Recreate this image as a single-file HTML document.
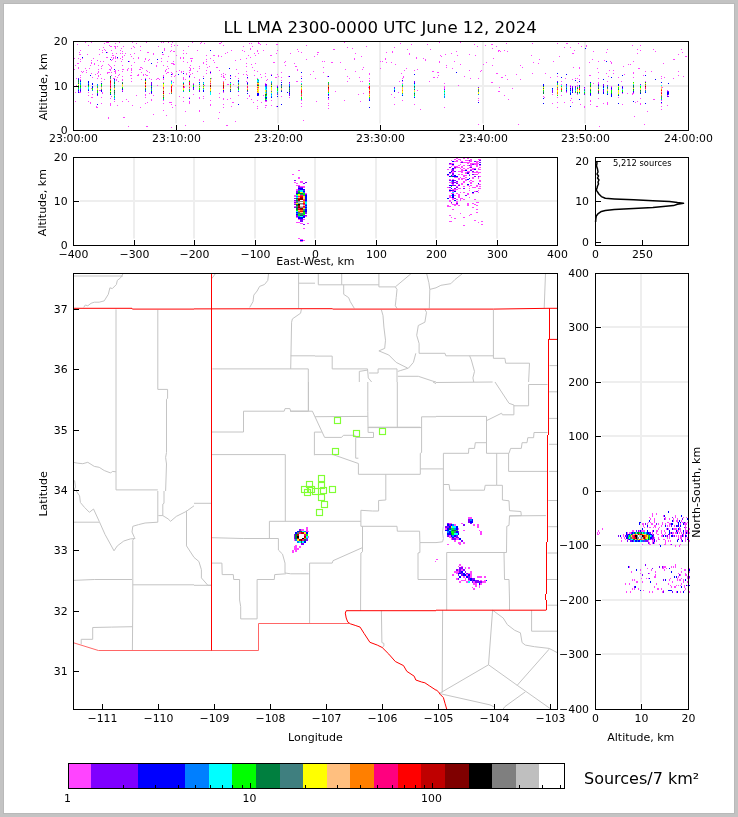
<!DOCTYPE html>
<html><head><meta charset="utf-8"><style>html,body{margin:0;padding:0;background:#c3c3c3;width:738px;height:817px;overflow:hidden}svg text{fill:#000}</style></head><body>
<svg width="738" height="817" viewBox="0 0 738 817" font-family="'DejaVu Sans', 'Liberation Sans', sans-serif" style="position:absolute;left:0;top:0" shape-rendering="auto">
<rect x="0" y="0" width="738" height="817" fill="#c3c3c3"/>
<rect x="3" y="3" width="732" height="811" fill="#b9b9b9"/>
<rect x="4" y="4" width="730" height="809" fill="#fff"/>
<text x="380.20" y="33.30" font-size="16.6" text-anchor="middle" >LL LMA 2300-0000 UTC June 12, 2024</text>
<line x1="176.00" y1="42.00" x2="176.00" y2="123.50" stroke="#eeeeee" stroke-width="2" />
<line x1="278.00" y1="42.00" x2="278.00" y2="123.50" stroke="#eeeeee" stroke-width="2" />
<line x1="380.00" y1="42.00" x2="380.00" y2="123.50" stroke="#eeeeee" stroke-width="2" />
<line x1="483.00" y1="42.00" x2="483.00" y2="123.50" stroke="#eeeeee" stroke-width="2" />
<line x1="585.00" y1="42.00" x2="585.00" y2="123.50" stroke="#eeeeee" stroke-width="2" />
<line x1="80.00" y1="86.00" x2="688.00" y2="86.00" stroke="#eeeeee" stroke-width="2" />
<g shape-rendering="crispEdges"><path fill="#ff44ff" d="M97 60h1v1h-1zM107 52h1v1h-1zM99 90h1v1h-1zM100 90h1v1h-1zM164 50h1v1h-1zM82 72h1v1h-1zM157 78h1v1h-1zM158 78h1v1h-1zM161 42h1v1h-1zM168 56h1v1h-1zM120 50h1v1h-1zM108 72h1v1h-1zM109 72h1v1h-1zM102 65h1v1h-1zM118 75h1v1h-1zM100 74h1v1h-1zM95 74h1v1h-1zM161 61h1v1h-1zM151 79h1v1h-1zM138 74h1v1h-1zM163 65h1v1h-1zM74 58h1v1h-1zM112 55h1v1h-1zM113 55h1v1h-1zM91 60h1v1h-1zM111 72h1v1h-1zM82 58h1v1h-1zM167 61h1v1h-1zM107 72h1v1h-1zM107 73h1v1h-1zM117 105h1v1h-1zM153 114h1v1h-1zM109 45h1v1h-1zM78 58h1v1h-1zM79 54h1v1h-1zM80 54h1v1h-1zM153 95h1v1h-1zM117 77h1v1h-1zM174 45h1v1h-1zM173 61h1v1h-1zM106 57h1v1h-1zM107 57h1v1h-1zM92 77h1v1h-1zM108 117h1v1h-1zM144 61h1v1h-1zM118 70h1v1h-1zM137 75h1v1h-1zM109 69h1v1h-1zM112 59h1v1h-1zM114 65h1v1h-1zM172 85h1v1h-1zM122 59h1v1h-1zM166 73h1v1h-1zM172 42h1v1h-1zM93 58h1v1h-1zM118 81h1v1h-1zM108 64h1v1h-1zM122 53h1v1h-1zM111 96h1v1h-1zM120 53h1v1h-1zM86 70h1v1h-1zM77 44h1v1h-1zM169 102h1v1h-1zM170 102h1v1h-1zM149 78h1v1h-1zM171 76h1v1h-1zM90 102h1v1h-1zM90 103h1v1h-1zM117 46h1v1h-1zM126 99h1v1h-1zM123 69h1v1h-1zM99 49h1v1h-1zM145 59h1v1h-1zM103 61h1v1h-1zM128 68h1v1h-1zM124 55h1v1h-1zM167 72h1v1h-1zM168 72h1v1h-1zM148 60h1v1h-1zM91 88h1v1h-1zM80 50h1v1h-1zM91 97h1v1h-1zM173 51h1v1h-1zM174 51h1v1h-1zM104 79h1v1h-1zM108 118h1v1h-1zM141 72h1v1h-1zM121 61h1v1h-1zM131 48h1v1h-1zM149 59h1v1h-1zM116 53h1v1h-1zM142 68h1v1h-1zM156 79h1v1h-1zM146 42h1v1h-1zM161 58h1v1h-1zM131 70h1v1h-1zM138 58h1v1h-1zM133 46h1v1h-1zM146 70h1v1h-1zM88 92h1v1h-1zM171 127h1v1h-1zM74 69h1v1h-1zM128 101h1v1h-1zM172 107h1v1h-1zM123 117h1v1h-1zM124 117h1v1h-1zM94 64h1v1h-1zM141 79h1v1h-1zM102 50h1v1h-1zM146 126h1v1h-1zM147 126h1v1h-1zM102 92h1v1h-1zM102 93h1v1h-1zM131 81h1v1h-1zM166 69h1v1h-1zM80 61h1v1h-1zM140 50h1v1h-1zM88 45h1v1h-1zM139 69h1v1h-1zM140 69h1v1h-1zM165 71h1v1h-1zM111 46h1v1h-1zM143 74h1v1h-1zM143 75h1v1h-1zM147 102h1v1h-1zM104 49h1v1h-1zM129 61h1v1h-1zM134 53h1v1h-1zM99 54h1v1h-1zM116 79h1v1h-1zM116 80h1v1h-1zM101 66h1v1h-1zM163 75h1v1h-1zM169 93h1v1h-1zM141 67h1v1h-1zM170 51h1v1h-1zM130 54h1v1h-1zM132 42h1v1h-1zM175 75h1v1h-1zM86 72h1v1h-1zM159 79h1v1h-1zM133 58h1v1h-1zM119 42h1v1h-1zM127 69h1v1h-1zM127 70h1v1h-1zM80 59h1v1h-1zM132 105h1v1h-1zM120 58h1v1h-1zM100 61h1v1h-1zM106 42h1v1h-1zM97 78h1v1h-1zM163 42h1v1h-1zM140 46h1v1h-1zM128 126h1v1h-1zM91 42h1v1h-1zM96 106h1v1h-1zM96 107h1v1h-1zM121 48h1v1h-1zM149 72h1v1h-1zM80 79h1v1h-1zM81 71h1v1h-1zM168 42h1v1h-1zM79 92h1v1h-1zM90 65h1v1h-1zM75 92h1v1h-1zM171 50h1v1h-1zM134 47h1v1h-1zM157 85h1v1h-1zM134 62h1v1h-1zM113 57h1v1h-1zM113 58h1v1h-1zM172 73h1v1h-1zM172 74h1v1h-1zM171 46h1v1h-1zM138 57h1v1h-1zM79 52h1v1h-1zM76 78h1v1h-1zM173 63h1v1h-1zM114 46h1v1h-1zM158 46h1v1h-1zM171 44h1v1h-1zM140 67h1v1h-1zM153 53h1v1h-1zM153 54h1v1h-1zM115 43h1v1h-1zM94 63h1v1h-1zM145 58h1v1h-1zM157 62h1v1h-1zM136 95h1v1h-1zM147 75h1v1h-1zM125 53h1v1h-1zM167 66h1v1h-1zM75 65h1v1h-1zM83 71h1v1h-1zM91 62h1v1h-1zM91 63h1v1h-1zM168 68h1v1h-1zM117 58h1v1h-1zM87 54h1v1h-1zM147 52h1v1h-1zM148 52h1v1h-1zM112 53h1v1h-1zM146 75h1v1h-1zM156 66h1v1h-1zM115 57h1v1h-1zM138 75h1v1h-1zM149 93h1v1h-1zM166 115h1v1h-1zM171 63h1v1h-1zM172 63h1v1h-1zM105 50h1v1h-1zM175 105h1v1h-1zM85 42h1v1h-1zM89 68h1v1h-1zM174 76h1v1h-1zM80 75h1v1h-1zM162 54h1v1h-1zM163 54h1v1h-1zM101 68h1v1h-1zM110 46h1v1h-1zM77 63h1v1h-1zM78 63h1v1h-1zM91 73h1v1h-1zM103 47h1v1h-1zM147 71h1v1h-1zM136 43h1v1h-1zM140 107h1v1h-1zM107 42h1v1h-1zM108 42h1v1h-1zM156 65h1v1h-1zM75 101h1v1h-1zM109 65h1v1h-1zM173 82h1v1h-1zM165 70h1v1h-1zM123 46h1v1h-1zM119 74h1v1h-1zM85 86h1v1h-1zM130 75h1v1h-1zM104 43h1v1h-1zM164 48h1v1h-1zM164 49h1v1h-1zM113 78h1v1h-1zM173 64h1v1h-1zM174 64h1v1h-1zM85 68h1v1h-1zM102 52h1v1h-1zM76 85h1v1h-1zM218 118h1v1h-1zM251 43h1v1h-1zM181 72h1v1h-1zM203 121h1v1h-1zM221 76h1v1h-1zM189 101h1v1h-1zM223 107h1v1h-1zM227 52h1v1h-1zM252 46h1v1h-1zM267 79h1v1h-1zM183 77h1v1h-1zM270 55h1v1h-1zM271 55h1v1h-1zM258 42h1v1h-1zM258 43h1v1h-1zM223 77h1v1h-1zM219 43h1v1h-1zM220 43h1v1h-1zM211 78h1v1h-1zM276 53h1v1h-1zM257 50h1v1h-1zM257 51h1v1h-1zM180 57h1v1h-1zM219 93h1v1h-1zM199 66h1v1h-1zM186 74h1v1h-1zM219 97h1v1h-1zM227 84h1v1h-1zM228 84h1v1h-1zM232 102h1v1h-1zM233 102h1v1h-1zM225 74h1v1h-1zM201 42h1v1h-1zM192 58h1v1h-1zM193 68h1v1h-1zM249 95h1v1h-1zM249 96h1v1h-1zM197 71h1v1h-1zM261 77h1v1h-1zM263 50h1v1h-1zM254 75h1v1h-1zM265 105h1v1h-1zM266 105h1v1h-1zM176 55h1v1h-1zM177 45h1v1h-1zM250 49h1v1h-1zM237 87h1v1h-1zM176 71h1v1h-1zM179 96h1v1h-1zM186 73h1v1h-1zM225 79h1v1h-1zM263 95h1v1h-1zM231 106h1v1h-1zM180 58h1v1h-1zM207 67h1v1h-1zM255 63h1v1h-1zM213 60h1v1h-1zM226 125h1v1h-1zM227 125h1v1h-1zM225 53h1v1h-1zM258 53h1v1h-1zM231 50h1v1h-1zM250 48h1v1h-1zM266 80h1v1h-1zM203 62h1v1h-1zM203 63h1v1h-1zM235 121h1v1h-1zM251 64h1v1h-1zM194 77h1v1h-1zM184 86h1v1h-1zM184 87h1v1h-1zM185 79h1v1h-1zM250 57h1v1h-1zM249 43h1v1h-1zM189 67h1v1h-1zM204 85h1v1h-1zM235 76h1v1h-1zM265 76h1v1h-1zM240 59h1v1h-1zM192 42h1v1h-1zM219 70h1v1h-1zM273 62h1v1h-1zM251 99h1v1h-1zM227 99h1v1h-1zM189 72h1v1h-1zM210 58h1v1h-1zM259 43h1v1h-1zM235 60h1v1h-1zM187 62h1v1h-1zM191 60h1v1h-1zM191 61h1v1h-1zM253 102h1v1h-1zM199 110h1v1h-1zM199 111h1v1h-1zM243 74h1v1h-1zM188 46h1v1h-1zM277 50h1v1h-1zM214 62h1v1h-1zM218 55h1v1h-1zM218 56h1v1h-1zM260 44h1v1h-1zM254 53h1v1h-1zM197 50h1v1h-1zM274 62h1v1h-1zM179 70h1v1h-1zM252 67h1v1h-1zM242 50h1v1h-1zM213 55h1v1h-1zM214 55h1v1h-1zM191 58h1v1h-1zM185 111h1v1h-1zM186 53h1v1h-1zM224 77h1v1h-1zM209 66h1v1h-1zM223 45h1v1h-1zM244 51h1v1h-1zM181 71h1v1h-1zM276 106h1v1h-1zM276 44h1v1h-1zM277 44h1v1h-1zM199 68h1v1h-1zM260 74h1v1h-1zM275 77h1v1h-1zM276 77h1v1h-1zM266 44h1v1h-1zM216 67h1v1h-1zM217 67h1v1h-1zM221 42h1v1h-1zM185 125h1v1h-1zM221 74h1v1h-1zM255 55h1v1h-1zM261 102h1v1h-1zM236 69h1v1h-1zM233 84h1v1h-1zM248 55h1v1h-1zM246 66h1v1h-1zM221 56h1v1h-1zM243 46h1v1h-1zM204 43h1v1h-1zM200 43h1v1h-1zM192 73h1v1h-1zM219 112h1v1h-1zM254 70h1v1h-1zM285 65h1v1h-1zM297 69h1v1h-1zM297 70h1v1h-1zM303 120h1v1h-1zM317 52h1v1h-1zM323 72h1v1h-1zM363 93h1v1h-1zM313 71h1v1h-1zM360 101h1v1h-1zM317 54h1v1h-1zM359 77h1v1h-1zM285 61h1v1h-1zM327 76h1v1h-1zM366 46h1v1h-1zM315 78h1v1h-1zM363 67h1v1h-1zM297 49h1v1h-1zM380 61h1v1h-1zM380 68h1v1h-1zM306 59h1v1h-1zM318 52h1v1h-1zM344 100h1v1h-1zM347 76h1v1h-1zM333 49h1v1h-1zM334 49h1v1h-1zM301 52h1v1h-1zM306 45h1v1h-1zM284 62h1v1h-1zM347 81h1v1h-1zM345 69h1v1h-1zM314 56h1v1h-1zM355 71h1v1h-1zM316 101h1v1h-1zM296 81h1v1h-1zM297 81h1v1h-1zM352 48h1v1h-1zM344 42h1v1h-1zM335 91h1v1h-1zM298 51h1v1h-1zM362 69h1v1h-1zM349 78h1v1h-1zM310 74h1v1h-1zM281 96h1v1h-1zM322 61h1v1h-1zM360 81h1v1h-1zM290 53h1v1h-1zM358 94h1v1h-1zM331 62h1v1h-1zM332 62h1v1h-1zM362 81h1v1h-1zM323 67h1v1h-1zM355 53h1v1h-1zM324 61h1v1h-1zM368 87h1v1h-1zM354 58h1v1h-1zM354 59h1v1h-1zM294 63h1v1h-1zM288 76h1v1h-1zM361 56h1v1h-1zM347 47h1v1h-1zM340 62h1v1h-1zM278 76h1v1h-1zM295 66h1v1h-1zM296 66h1v1h-1zM401 73h1v1h-1zM398 92h1v1h-1zM457 55h1v1h-1zM429 81h1v1h-1zM454 61h1v1h-1zM460 64h1v1h-1zM474 44h1v1h-1zM409 53h1v1h-1zM409 54h1v1h-1zM400 43h1v1h-1zM458 85h1v1h-1zM451 53h1v1h-1zM437 77h1v1h-1zM406 68h1v1h-1zM427 44h1v1h-1zM437 72h1v1h-1zM438 72h1v1h-1zM417 69h1v1h-1zM464 76h1v1h-1zM446 67h1v1h-1zM445 54h1v1h-1zM469 70h1v1h-1zM425 60h1v1h-1zM470 78h1v1h-1zM395 64h1v1h-1zM425 59h1v1h-1zM480 71h1v1h-1zM399 81h1v1h-1zM382 61h1v1h-1zM439 61h1v1h-1zM439 62h1v1h-1zM456 51h1v1h-1zM411 44h1v1h-1zM394 47h1v1h-1zM392 51h1v1h-1zM477 46h1v1h-1zM404 70h1v1h-1zM475 55h1v1h-1zM460 42h1v1h-1zM386 62h1v1h-1zM386 52h1v1h-1zM430 49h1v1h-1zM391 62h1v1h-1zM446 65h1v1h-1zM433 77h1v1h-1zM434 77h1v1h-1zM439 42h1v1h-1zM481 70h1v1h-1zM441 56h1v1h-1zM438 75h1v1h-1zM385 58h1v1h-1zM385 59h1v1h-1zM432 71h1v1h-1zM433 71h1v1h-1zM420 109h1v1h-1zM440 55h1v1h-1zM452 68h1v1h-1zM417 90h1v1h-1zM423 58h1v1h-1zM391 94h1v1h-1zM407 49h1v1h-1zM469 54h1v1h-1zM416 57h1v1h-1zM416 58h1v1h-1zM392 52h1v1h-1zM478 124h1v1h-1zM403 76h1v1h-1zM403 77h1v1h-1zM570 47h1v1h-1zM580 104h1v1h-1zM486 62h1v1h-1zM578 43h1v1h-1zM498 50h1v1h-1zM499 50h1v1h-1zM498 51h1v1h-1zM566 43h1v1h-1zM567 43h1v1h-1zM498 91h1v1h-1zM499 91h1v1h-1zM508 99h1v1h-1zM531 55h1v1h-1zM492 48h1v1h-1zM581 46h1v1h-1zM483 64h1v1h-1zM518 124h1v1h-1zM520 79h1v1h-1zM492 65h1v1h-1zM574 50h1v1h-1zM532 73h1v1h-1zM505 75h1v1h-1zM533 62h1v1h-1zM553 61h1v1h-1zM559 56h1v1h-1zM496 73h1v1h-1zM497 73h1v1h-1zM499 87h1v1h-1zM507 79h1v1h-1zM512 88h1v1h-1zM507 51h1v1h-1zM538 63h1v1h-1zM491 44h1v1h-1zM492 44h1v1h-1zM506 43h1v1h-1zM579 67h1v1h-1zM579 68h1v1h-1zM493 58h1v1h-1zM557 43h1v1h-1zM572 53h1v1h-1zM573 53h1v1h-1zM565 78h1v1h-1zM539 59h1v1h-1zM491 82h1v1h-1zM492 82h1v1h-1zM571 98h1v1h-1zM522 67h1v1h-1zM500 51h1v1h-1zM564 102h1v1h-1zM544 97h1v1h-1zM564 47h1v1h-1zM485 45h1v1h-1zM550 77h1v1h-1zM496 46h1v1h-1zM516 74h1v1h-1zM532 43h1v1h-1zM545 73h1v1h-1zM504 50h1v1h-1zM520 65h1v1h-1zM573 67h1v1h-1zM504 95h1v1h-1zM501 77h1v1h-1zM502 77h1v1h-1zM643 75h1v1h-1zM678 75h1v1h-1zM599 126h1v1h-1zM597 68h1v1h-1zM640 45h1v1h-1zM664 77h1v1h-1zM608 76h1v1h-1zM592 59h1v1h-1zM613 70h1v1h-1zM607 49h1v1h-1zM593 51h1v1h-1zM644 124h1v1h-1zM596 106h1v1h-1zM597 106h1v1h-1zM683 76h1v1h-1zM681 49h1v1h-1zM653 99h1v1h-1zM654 99h1v1h-1zM673 78h1v1h-1zM586 45h1v1h-1zM586 46h1v1h-1zM598 61h1v1h-1zM598 72h1v1h-1zM632 93h1v1h-1zM633 93h1v1h-1zM632 94h1v1h-1zM630 64h1v1h-1zM589 62h1v1h-1zM678 54h1v1h-1zM678 71h1v1h-1zM628 64h1v1h-1zM673 59h1v1h-1zM662 87h1v1h-1zM638 68h1v1h-1zM639 68h1v1h-1zM633 61h1v1h-1zM651 71h1v1h-1zM634 116h1v1h-1zM624 74h1v1h-1zM682 52h1v1h-1zM627 93h1v1h-1zM655 51h1v1h-1zM606 52h1v1h-1zM606 73h1v1h-1zM647 111h1v1h-1zM607 103h1v1h-1zM685 56h1v1h-1zM686 56h1v1h-1zM623 66h1v1h-1zM610 61h1v1h-1zM637 53h1v1h-1zM621 81h1v1h-1zM611 62h1v1h-1zM611 63h1v1h-1zM609 70h1v1h-1zM663 63h1v1h-1zM640 50h1v1h-1zM653 49h1v1h-1zM635 102h1v1h-1zM632 45h1v1h-1zM593 83h1v1h-1zM637 49h1v1h-1zM637 101h1v1h-1zM613 73h1v1h-1zM604 60h1v1h-1zM589 75h1v1h-1zM674 59h1v1h-1zM115 48h1v1h-1zM115 72h1v1h-1zM115 76h1v1h-1zM115 70h1v1h-1zM115 46h1v1h-1zM115 47h1v1h-1zM115 71h1v1h-1zM115 56h1v1h-1zM115 61h1v1h-1zM115 73h1v1h-1zM115 58h1v1h-1zM131 69h1v1h-1zM131 72h1v1h-1zM131 75h1v1h-1zM131 56h1v1h-1zM131 65h1v1h-1zM131 78h1v1h-1zM131 68h1v1h-1zM122 71h1v1h-1zM122 69h1v1h-1zM122 56h1v1h-1zM122 51h1v1h-1zM122 65h1v1h-1zM122 76h1v1h-1zM122 57h1v1h-1zM122 80h1v1h-1zM98 65h1v1h-1zM98 69h1v1h-1zM98 71h1v1h-1zM98 76h1v1h-1zM98 72h1v1h-1zM98 75h1v1h-1zM183 57h1v1h-1zM183 71h1v1h-1zM183 53h1v1h-1zM183 58h1v1h-1zM183 50h1v1h-1zM183 61h1v1h-1zM190 68h1v1h-1zM190 65h1v1h-1zM190 69h1v1h-1zM190 74h1v1h-1zM190 70h1v1h-1zM190 58h1v1h-1zM111 75h1v1h-1zM111 50h1v1h-1zM111 57h1v1h-1zM111 60h1v1h-1zM111 68h1v1h-1zM111 67h1v1h-1zM246 71h1v1h-1zM246 81h1v1h-1zM246 63h1v1h-1zM246 74h1v1h-1zM246 58h1v1h-1zM206 55h1v1h-1zM206 64h1v1h-1zM206 70h1v1h-1zM206 61h1v1h-1zM206 73h1v1h-1zM206 59h1v1h-1zM78 68h1v1h-1zM78 67h1v1h-1zM80 92h1v1h-1zM80 77h1v1h-1zM88 95h1v1h-1zM88 101h1v1h-1zM92 97h1v1h-1zM92 94h1v1h-1zM97 73h1v1h-1zM97 107h1v1h-1zM101 81h1v1h-1zM101 97h1v1h-1zM101 78h1v1h-1zM101 103h1v1h-1zM110 69h1v1h-1zM110 70h1v1h-1zM110 103h1v1h-1zM110 98h1v1h-1zM110 66h1v1h-1zM110 104h1v1h-1zM110 105h1v1h-1zM114 78h1v1h-1zM114 101h1v1h-1zM114 71h1v1h-1zM122 90h1v1h-1zM122 79h1v1h-1zM122 101h1v1h-1zM145 74h1v1h-1zM145 97h1v1h-1zM145 103h1v1h-1zM145 94h1v1h-1zM145 95h1v1h-1zM145 78h1v1h-1zM151 100h1v1h-1zM151 99h1v1h-1zM163 78h1v1h-1zM163 76h1v1h-1zM163 82h1v1h-1zM163 110h1v1h-1zM163 100h1v1h-1zM163 103h1v1h-1zM163 79h1v1h-1zM171 104h1v1h-1zM171 72h1v1h-1zM171 80h1v1h-1zM171 102h1v1h-1zM183 101h1v1h-1zM183 78h1v1h-1zM183 97h1v1h-1zM183 79h1v1h-1zM189 70h1v1h-1zM189 102h1v1h-1zM189 97h1v1h-1zM189 75h1v1h-1zM189 103h1v1h-1zM189 77h1v1h-1zM193 94h1v1h-1zM193 83h1v1h-1zM199 79h1v1h-1zM199 80h1v1h-1zM199 97h1v1h-1zM199 98h1v1h-1zM203 76h1v1h-1zM203 98h1v1h-1zM203 96h1v1h-1zM210 100h1v1h-1zM210 73h1v1h-1zM210 105h1v1h-1zM210 71h1v1h-1zM210 104h1v1h-1zM223 92h1v1h-1zM223 76h1v1h-1zM223 81h1v1h-1zM223 99h1v1h-1zM223 75h1v1h-1zM223 104h1v1h-1zM223 98h1v1h-1zM223 73h1v1h-1zM230 98h1v1h-1zM230 76h1v1h-1zM238 78h1v1h-1zM238 73h1v1h-1zM238 95h1v1h-1zM247 75h1v1h-1zM247 78h1v1h-1zM247 98h1v1h-1zM257 100h1v1h-1zM257 106h1v1h-1zM257 71h1v1h-1zM257 108h1v1h-1zM257 78h1v1h-1zM265 83h1v1h-1zM265 101h1v1h-1zM266 101h1v1h-1zM265 107h1v1h-1zM265 73h1v1h-1zM271 100h1v1h-1zM271 105h1v1h-1zM271 74h1v1h-1zM277 85h1v1h-1zM277 74h1v1h-1zM281 77h1v1h-1zM281 80h1v1h-1zM281 72h1v1h-1zM289 83h1v1h-1zM289 97h1v1h-1zM301 76h1v1h-1zM301 100h1v1h-1zM301 103h1v1h-1zM301 106h1v1h-1zM301 81h1v1h-1zM328 99h1v1h-1zM328 108h1v1h-1zM328 103h1v1h-1zM328 105h1v1h-1zM328 98h1v1h-1zM369 73h1v1h-1zM369 78h1v1h-1zM369 74h1v1h-1zM369 81h1v1h-1zM369 80h1v1h-1zM394 104h1v1h-1zM394 97h1v1h-1zM402 78h1v1h-1zM402 81h1v1h-1zM402 83h1v1h-1zM402 100h1v1h-1zM414 104h1v1h-1zM414 70h1v1h-1zM444 87h1v1h-1zM444 88h1v1h-1zM444 86h1v1h-1zM444 107h1v1h-1zM444 83h1v1h-1zM478 78h1v1h-1zM478 100h1v1h-1zM478 98h1v1h-1zM543 96h1v1h-1zM552 94h1v1h-1zM552 103h1v1h-1zM557 76h1v1h-1zM557 107h1v1h-1zM557 97h1v1h-1zM557 102h1v1h-1zM561 84h1v1h-1zM561 95h1v1h-1zM561 81h1v1h-1zM566 92h1v1h-1zM570 87h1v1h-1zM570 85h1v1h-1zM570 100h1v1h-1zM572 102h1v1h-1zM572 79h1v1h-1zM575 78h1v1h-1zM577 86h1v1h-1zM577 94h1v1h-1zM577 78h1v1h-1zM577 82h1v1h-1zM577 85h1v1h-1zM579 75h1v1h-1zM579 79h1v1h-1zM584 88h1v1h-1zM584 107h1v1h-1zM584 106h1v1h-1zM590 104h1v1h-1zM590 75h1v1h-1zM590 100h1v1h-1zM590 101h1v1h-1zM598 78h1v1h-1zM598 98h1v1h-1zM598 82h1v1h-1zM598 83h1v1h-1zM603 103h1v1h-1zM607 81h1v1h-1zM607 104h1v1h-1zM607 102h1v1h-1zM611 86h1v1h-1zM618 77h1v1h-1zM618 97h1v1h-1zM622 93h1v1h-1zM622 104h1v1h-1zM633 72h1v1h-1zM633 73h1v1h-1zM633 77h1v1h-1zM640 98h1v1h-1zM640 103h1v1h-1zM640 104h1v1h-1zM645 81h1v1h-1zM645 71h1v1h-1zM661 109h1v1h-1zM661 76h1v1h-1zM661 103h1v1h-1zM661 106h1v1h-1zM661 78h1v1h-1zM661 100h1v1h-1zM667 95h1v1h-1zM667 105h1v1h-1zM667 90h1v1h-1z"/>
<path fill="#7f00ff" d="M258 95h1v1h-1zM78 78h1v1h-1zM78 91h1v1h-1zM80 80h1v1h-1zM80 89h1v1h-1zM80 91h1v1h-1zM97 93h1v1h-1zM97 95h1v1h-1zM114 99h1v1h-1zM122 91h1v1h-1zM145 91h1v1h-1zM151 82h1v1h-1zM151 83h1v1h-1zM151 84h1v1h-1zM151 93h1v1h-1zM193 84h1v1h-1zM193 88h1v1h-1zM193 89h1v1h-1zM199 90h1v1h-1zM199 91h1v1h-1zM223 91h1v1h-1zM230 82h1v1h-1zM238 91h1v1h-1zM247 82h1v1h-1zM247 91h1v1h-1zM265 84h1v1h-1zM266 84h1v1h-1zM265 85h1v1h-1zM266 85h1v1h-1zM265 100h1v1h-1zM266 100h1v1h-1zM277 86h1v1h-1zM277 94h1v1h-1zM289 82h1v1h-1zM289 92h1v1h-1zM289 94h1v1h-1zM289 95h1v1h-1zM328 95h1v1h-1zM369 99h1v1h-1zM394 87h1v1h-1zM414 81h1v1h-1zM414 82h1v1h-1zM444 89h1v1h-1zM478 87h1v1h-1zM552 90h1v1h-1zM552 91h1v1h-1zM552 92h1v1h-1zM557 81h1v1h-1zM566 85h1v1h-1zM566 91h1v1h-1zM570 86h1v1h-1zM570 89h1v1h-1zM572 86h1v1h-1zM572 87h1v1h-1zM572 91h1v1h-1zM575 86h1v1h-1zM575 87h1v1h-1zM575 92h1v1h-1zM584 87h1v1h-1zM584 94h1v1h-1zM590 95h1v1h-1zM598 84h1v1h-1zM598 93h1v1h-1zM603 84h1v1h-1zM603 85h1v1h-1zM603 90h1v1h-1zM603 91h1v1h-1zM607 85h1v1h-1zM611 87h1v1h-1zM611 89h1v1h-1zM622 86h1v1h-1zM622 88h1v1h-1zM633 92h1v1h-1zM640 84h1v1h-1zM667 91h1v1h-1zM668 91h1v1h-1zM668 94h1v1h-1zM667 96h1v1h-1zM668 96h1v1h-1z"/>
<path fill="#0000ff" d="M82 57h1v1h-1zM92 84h1v1h-1zM114 69h1v1h-1zM151 63h1v1h-1zM257 95h1v1h-1zM90 75h1v1h-1zM106 52h1v1h-1zM110 59h1v1h-1zM117 57h1v1h-1zM128 61h1v1h-1zM157 59h1v1h-1zM162 52h1v1h-1zM178 74h1v1h-1zM210 50h1v1h-1zM229 68h1v1h-1zM287 92h1v1h-1zM456 72h1v1h-1zM585 48h1v1h-1zM606 61h1v1h-1zM655 79h1v1h-1zM668 83h1v1h-1zM78 79h1v1h-1zM78 90h1v1h-1zM78 92h1v1h-1zM80 81h1v1h-1zM80 90h1v1h-1zM88 82h1v1h-1zM88 84h1v1h-1zM88 90h1v1h-1zM88 81h1v1h-1zM92 86h1v1h-1zM92 87h1v1h-1zM92 83h1v1h-1zM97 94h1v1h-1zM97 104h1v1h-1zM101 83h1v1h-1zM101 90h1v1h-1zM101 91h1v1h-1zM110 94h1v1h-1zM114 79h1v1h-1zM122 89h1v1h-1zM145 79h1v1h-1zM151 85h1v1h-1zM151 87h1v1h-1zM151 91h1v1h-1zM151 92h1v1h-1zM163 77h1v1h-1zM171 74h1v1h-1zM183 73h1v1h-1zM189 76h1v1h-1zM189 98h1v1h-1zM193 87h1v1h-1zM199 82h1v1h-1zM203 90h1v1h-1zM203 91h1v1h-1zM203 78h1v1h-1zM210 72h1v1h-1zM223 90h1v1h-1zM230 91h1v1h-1zM230 78h1v1h-1zM230 75h1v1h-1zM238 80h1v1h-1zM238 81h1v1h-1zM238 104h1v1h-1zM247 83h1v1h-1zM247 93h1v1h-1zM247 77h1v1h-1zM257 93h1v1h-1zM258 93h1v1h-1zM257 94h1v1h-1zM258 94h1v1h-1zM265 97h1v1h-1zM266 97h1v1h-1zM271 97h1v1h-1zM271 75h1v1h-1zM277 87h1v1h-1zM277 96h1v1h-1zM277 106h1v1h-1zM281 82h1v1h-1zM281 84h1v1h-1zM281 91h1v1h-1zM281 104h1v1h-1zM289 86h1v1h-1zM289 93h1v1h-1zM289 76h1v1h-1zM301 78h1v1h-1zM301 72h1v1h-1zM328 94h1v1h-1zM328 76h1v1h-1zM328 97h1v1h-1zM369 100h1v1h-1zM369 107h1v1h-1zM394 90h1v1h-1zM394 91h1v1h-1zM402 95h1v1h-1zM402 80h1v1h-1zM414 83h1v1h-1zM414 97h1v1h-1zM414 74h1v1h-1zM478 102h1v1h-1zM543 84h1v1h-1zM543 85h1v1h-1zM543 98h1v1h-1zM543 103h1v1h-1zM552 88h1v1h-1zM557 82h1v1h-1zM557 73h1v1h-1zM561 77h1v1h-1zM566 84h1v1h-1zM566 90h1v1h-1zM566 74h1v1h-1zM570 88h1v1h-1zM570 90h1v1h-1zM570 93h1v1h-1zM570 94h1v1h-1zM570 106h1v1h-1zM572 88h1v1h-1zM572 89h1v1h-1zM572 90h1v1h-1zM572 92h1v1h-1zM575 80h1v1h-1zM579 85h1v1h-1zM579 81h1v1h-1zM579 99h1v1h-1zM590 82h1v1h-1zM590 93h1v1h-1zM590 94h1v1h-1zM598 85h1v1h-1zM603 86h1v1h-1zM603 87h1v1h-1zM603 89h1v1h-1zM603 92h1v1h-1zM603 93h1v1h-1zM603 79h1v1h-1zM607 94h1v1h-1zM611 88h1v1h-1zM611 94h1v1h-1zM611 95h1v1h-1zM611 96h1v1h-1zM611 77h1v1h-1zM618 85h1v1h-1zM618 95h1v1h-1zM618 84h1v1h-1zM618 103h1v1h-1zM622 87h1v1h-1zM622 92h1v1h-1zM622 75h1v1h-1zM633 91h1v1h-1zM633 101h1v1h-1zM640 93h1v1h-1zM645 92h1v1h-1zM645 75h1v1h-1zM645 103h1v1h-1zM661 82h1v1h-1zM661 102h1v1h-1zM667 92h1v1h-1zM668 92h1v1h-1zM667 93h1v1h-1zM668 93h1v1h-1zM667 94h1v1h-1z"/>
<path fill="#007fff" d="M78 89h1v1h-1zM80 83h1v1h-1zM80 84h1v1h-1zM80 88h1v1h-1zM88 83h1v1h-1zM88 89h1v1h-1zM92 90h1v1h-1zM97 84h1v1h-1zM97 85h1v1h-1zM114 80h1v1h-1zM114 81h1v1h-1zM114 97h1v1h-1zM145 90h1v1h-1zM151 89h1v1h-1zM163 99h1v1h-1zM171 81h1v1h-1zM183 91h1v1h-1zM189 90h1v1h-1zM203 82h1v1h-1zM258 80h1v1h-1zM265 86h1v1h-1zM266 86h1v1h-1zM266 87h1v1h-1zM266 88h1v1h-1zM266 92h1v1h-1zM271 82h1v1h-1zM271 94h1v1h-1zM271 96h1v1h-1zM277 93h1v1h-1zM289 84h1v1h-1zM289 85h1v1h-1zM301 99h1v1h-1zM369 98h1v1h-1zM394 88h1v1h-1zM444 96h1v1h-1zM444 97h1v1h-1zM478 94h1v1h-1zM552 89h1v1h-1zM557 84h1v1h-1zM566 86h1v1h-1zM566 87h1v1h-1zM566 89h1v1h-1zM570 92h1v1h-1zM575 88h1v1h-1zM575 89h1v1h-1zM584 89h1v1h-1zM607 86h1v1h-1zM607 93h1v1h-1zM645 91h1v1h-1zM661 99h1v1h-1z"/>
<path fill="#00ffff" d="M80 82h1v1h-1zM88 87h1v1h-1zM88 88h1v1h-1zM114 84h1v1h-1zM114 95h1v1h-1zM114 98h1v1h-1zM171 82h1v1h-1zM171 83h1v1h-1zM183 82h1v1h-1zM199 83h1v1h-1zM203 83h1v1h-1zM203 89h1v1h-1zM210 92h1v1h-1zM210 93h1v1h-1zM210 94h1v1h-1zM230 83h1v1h-1zM238 82h1v1h-1zM238 90h1v1h-1zM258 79h1v1h-1zM257 80h1v1h-1zM257 81h1v1h-1zM258 81h1v1h-1zM265 87h1v1h-1zM265 88h1v1h-1zM265 89h1v1h-1zM266 89h1v1h-1zM265 92h1v1h-1zM266 96h1v1h-1zM266 99h1v1h-1zM271 81h1v1h-1zM271 93h1v1h-1zM271 95h1v1h-1zM277 91h1v1h-1zM301 83h1v1h-1zM328 93h1v1h-1zM369 84h1v1h-1zM394 89h1v1h-1zM402 84h1v1h-1zM402 94h1v1h-1zM414 84h1v1h-1zM414 85h1v1h-1zM414 88h1v1h-1zM414 92h1v1h-1zM414 96h1v1h-1zM444 90h1v1h-1zM444 92h1v1h-1zM444 93h1v1h-1zM444 95h1v1h-1zM561 85h1v1h-1zM570 91h1v1h-1zM575 90h1v1h-1zM579 93h1v1h-1zM584 91h1v1h-1zM603 88h1v1h-1zM622 89h1v1h-1zM633 84h1v1h-1zM640 85h1v1h-1zM661 85h1v1h-1z"/>
<path fill="#00ff00" d="M92 88h1v1h-1zM78 85h1v1h-1zM78 88h1v1h-1zM80 85h1v1h-1zM80 87h1v1h-1zM88 86h1v1h-1zM92 89h1v1h-1zM97 86h1v1h-1zM97 91h1v1h-1zM97 92h1v1h-1zM101 84h1v1h-1zM101 85h1v1h-1zM110 90h1v1h-1zM110 93h1v1h-1zM114 96h1v1h-1zM122 87h1v1h-1zM151 86h1v1h-1zM151 90h1v1h-1zM163 83h1v1h-1zM163 98h1v1h-1zM183 90h1v1h-1zM189 91h1v1h-1zM193 85h1v1h-1zM193 86h1v1h-1zM199 86h1v1h-1zM199 88h1v1h-1zM199 89h1v1h-1zM203 86h1v1h-1zM210 78h1v1h-1zM230 84h1v1h-1zM238 89h1v1h-1zM257 79h1v1h-1zM266 95h1v1h-1zM265 96h1v1h-1zM265 99h1v1h-1zM277 88h1v1h-1zM277 89h1v1h-1zM277 90h1v1h-1zM301 86h1v1h-1zM301 97h1v1h-1zM301 98h1v1h-1zM328 82h1v1h-1zM328 92h1v1h-1zM369 83h1v1h-1zM369 97h1v1h-1zM402 85h1v1h-1zM414 95h1v1h-1zM444 91h1v1h-1zM543 90h1v1h-1zM557 83h1v1h-1zM557 95h1v1h-1zM561 86h1v1h-1zM561 90h1v1h-1zM575 91h1v1h-1zM577 87h1v1h-1zM584 92h1v1h-1zM590 83h1v1h-1zM590 84h1v1h-1zM590 91h1v1h-1zM590 92h1v1h-1zM607 92h1v1h-1zM611 90h1v1h-1zM611 91h1v1h-1zM611 92h1v1h-1zM618 87h1v1h-1zM618 88h1v1h-1zM618 94h1v1h-1zM622 90h1v1h-1zM622 91h1v1h-1zM633 82h1v1h-1zM633 90h1v1h-1zM640 86h1v1h-1zM640 87h1v1h-1zM661 98h1v1h-1z"/>
<path fill="#007f3f" d="M78 80h1v1h-1zM78 81h1v1h-1zM78 83h1v1h-1zM78 87h1v1h-1zM80 86h1v1h-1zM88 85h1v1h-1zM110 76h1v1h-1zM110 89h1v1h-1zM110 92h1v1h-1zM114 82h1v1h-1zM114 83h1v1h-1zM114 85h1v1h-1zM114 90h1v1h-1zM114 92h1v1h-1zM122 83h1v1h-1zM122 88h1v1h-1zM145 80h1v1h-1zM145 89h1v1h-1zM163 97h1v1h-1zM183 83h1v1h-1zM189 81h1v1h-1zM203 84h1v1h-1zM230 89h1v1h-1zM238 88h1v1h-1zM247 90h1v1h-1zM257 85h1v1h-1zM258 85h1v1h-1zM265 94h1v1h-1zM266 94h1v1h-1zM265 95h1v1h-1zM265 98h1v1h-1zM266 98h1v1h-1zM271 84h1v1h-1zM271 86h1v1h-1zM281 87h1v1h-1zM289 87h1v1h-1zM289 89h1v1h-1zM289 91h1v1h-1zM414 86h1v1h-1zM414 89h1v1h-1zM414 93h1v1h-1zM543 86h1v1h-1zM543 88h1v1h-1zM543 92h1v1h-1zM543 93h1v1h-1zM566 88h1v1h-1zM577 88h1v1h-1zM577 92h1v1h-1zM579 86h1v1h-1zM579 87h1v1h-1zM579 92h1v1h-1zM590 85h1v1h-1zM590 86h1v1h-1zM590 90h1v1h-1zM598 88h1v1h-1zM598 91h1v1h-1zM598 92h1v1h-1zM607 87h1v1h-1zM611 93h1v1h-1zM618 89h1v1h-1zM633 85h1v1h-1zM633 86h1v1h-1zM633 89h1v1h-1zM640 90h1v1h-1zM640 92h1v1h-1zM645 82h1v1h-1z"/>
<path fill="#3f7f7f" d="M78 82h1v1h-1zM97 87h1v1h-1zM97 90h1v1h-1zM101 86h1v1h-1zM101 89h1v1h-1zM110 77h1v1h-1zM110 78h1v1h-1zM114 86h1v1h-1zM114 87h1v1h-1zM114 91h1v1h-1zM114 93h1v1h-1zM114 94h1v1h-1zM122 82h1v1h-1zM145 88h1v1h-1zM151 88h1v1h-1zM163 95h1v1h-1zM171 93h1v1h-1zM189 89h1v1h-1zM199 84h1v1h-1zM203 88h1v1h-1zM210 91h1v1h-1zM230 86h1v1h-1zM230 90h1v1h-1zM238 83h1v1h-1zM238 84h1v1h-1zM238 86h1v1h-1zM238 87h1v1h-1zM247 84h1v1h-1zM257 82h1v1h-1zM258 82h1v1h-1zM266 90h1v1h-1zM266 91h1v1h-1zM266 93h1v1h-1zM271 83h1v1h-1zM271 91h1v1h-1zM277 92h1v1h-1zM281 85h1v1h-1zM281 86h1v1h-1zM281 90h1v1h-1zM289 88h1v1h-1zM289 90h1v1h-1zM301 84h1v1h-1zM301 93h1v1h-1zM328 83h1v1h-1zM328 84h1v1h-1zM402 86h1v1h-1zM402 93h1v1h-1zM414 87h1v1h-1zM414 94h1v1h-1zM444 94h1v1h-1zM478 89h1v1h-1zM478 90h1v1h-1zM478 91h1v1h-1zM543 91h1v1h-1zM557 87h1v1h-1zM561 91h1v1h-1zM577 93h1v1h-1zM584 90h1v1h-1zM584 93h1v1h-1zM590 89h1v1h-1zM598 86h1v1h-1zM598 87h1v1h-1zM607 88h1v1h-1zM607 91h1v1h-1zM633 87h1v1h-1zM640 91h1v1h-1zM645 84h1v1h-1zM645 90h1v1h-1zM661 96h1v1h-1zM661 97h1v1h-1z"/>
<path fill="#ffff00" d="M557 90h1v1h-1zM78 84h1v1h-1zM97 89h1v1h-1zM110 91h1v1h-1zM114 88h1v1h-1zM122 85h1v1h-1zM145 81h1v1h-1zM145 84h1v1h-1zM145 87h1v1h-1zM163 84h1v1h-1zM163 85h1v1h-1zM163 86h1v1h-1zM163 94h1v1h-1zM171 84h1v1h-1zM171 85h1v1h-1zM183 85h1v1h-1zM183 88h1v1h-1zM183 89h1v1h-1zM189 80h1v1h-1zM203 87h1v1h-1zM210 89h1v1h-1zM210 90h1v1h-1zM223 89h1v1h-1zM238 85h1v1h-1zM257 83h1v1h-1zM258 83h1v1h-1zM258 86h1v1h-1zM258 88h1v1h-1zM257 90h1v1h-1zM258 90h1v1h-1zM258 92h1v1h-1zM265 90h1v1h-1zM265 91h1v1h-1zM265 93h1v1h-1zM271 85h1v1h-1zM271 87h1v1h-1zM271 88h1v1h-1zM271 89h1v1h-1zM271 92h1v1h-1zM301 88h1v1h-1zM369 96h1v1h-1zM402 88h1v1h-1zM402 91h1v1h-1zM402 92h1v1h-1zM414 91h1v1h-1zM478 88h1v1h-1zM478 92h1v1h-1zM478 93h1v1h-1zM543 87h1v1h-1zM543 89h1v1h-1zM557 85h1v1h-1zM557 86h1v1h-1zM557 91h1v1h-1zM577 89h1v1h-1zM577 91h1v1h-1zM579 90h1v1h-1zM579 91h1v1h-1zM590 88h1v1h-1zM598 89h1v1h-1zM607 90h1v1h-1zM618 86h1v1h-1zM618 90h1v1h-1zM618 91h1v1h-1zM618 93h1v1h-1zM633 83h1v1h-1zM633 88h1v1h-1zM640 88h1v1h-1zM645 83h1v1h-1z"/>
<path fill="#ffbf7f" d="M78 86h1v1h-1zM97 88h1v1h-1zM101 87h1v1h-1zM101 88h1v1h-1zM110 79h1v1h-1zM114 89h1v1h-1zM122 84h1v1h-1zM122 86h1v1h-1zM163 89h1v1h-1zM163 90h1v1h-1zM189 85h1v1h-1zM189 86h1v1h-1zM189 88h1v1h-1zM199 85h1v1h-1zM199 87h1v1h-1zM203 85h1v1h-1zM210 79h1v1h-1zM210 80h1v1h-1zM210 82h1v1h-1zM210 84h1v1h-1zM210 87h1v1h-1zM230 88h1v1h-1zM247 85h1v1h-1zM247 88h1v1h-1zM257 86h1v1h-1zM257 88h1v1h-1zM258 89h1v1h-1zM258 91h1v1h-1zM257 92h1v1h-1zM271 90h1v1h-1zM281 88h1v1h-1zM281 89h1v1h-1zM301 85h1v1h-1zM301 87h1v1h-1zM301 96h1v1h-1zM369 85h1v1h-1zM369 90h1v1h-1zM369 94h1v1h-1zM402 87h1v1h-1zM402 89h1v1h-1zM414 90h1v1h-1zM557 94h1v1h-1zM561 87h1v1h-1zM577 90h1v1h-1zM590 87h1v1h-1zM607 89h1v1h-1zM618 92h1v1h-1zM640 89h1v1h-1zM645 89h1v1h-1zM661 86h1v1h-1zM661 87h1v1h-1zM661 88h1v1h-1zM661 91h1v1h-1zM661 94h1v1h-1z"/>
<path fill="#ff7f00" d="M328 91h1v1h-1zM110 88h1v1h-1zM163 88h1v1h-1zM163 96h1v1h-1zM171 92h1v1h-1zM210 81h1v1h-1zM210 88h1v1h-1zM223 82h1v1h-1zM223 84h1v1h-1zM230 85h1v1h-1zM230 87h1v1h-1zM247 89h1v1h-1zM258 84h1v1h-1zM258 87h1v1h-1zM257 89h1v1h-1zM257 91h1v1h-1zM301 89h1v1h-1zM301 94h1v1h-1zM328 85h1v1h-1zM328 86h1v1h-1zM328 90h1v1h-1zM369 89h1v1h-1zM369 93h1v1h-1zM369 95h1v1h-1zM402 90h1v1h-1zM557 88h1v1h-1zM557 92h1v1h-1zM557 93h1v1h-1zM561 88h1v1h-1zM645 85h1v1h-1zM661 89h1v1h-1zM661 95h1v1h-1z"/>
<path fill="#ff007f" d="M110 80h1v1h-1zM110 83h1v1h-1zM110 84h1v1h-1zM110 85h1v1h-1zM110 87h1v1h-1zM145 85h1v1h-1zM163 87h1v1h-1zM163 92h1v1h-1zM171 88h1v1h-1zM183 84h1v1h-1zM183 87h1v1h-1zM189 82h1v1h-1zM189 83h1v1h-1zM189 87h1v1h-1zM210 83h1v1h-1zM223 83h1v1h-1zM223 88h1v1h-1zM247 86h1v1h-1zM247 87h1v1h-1zM257 84h1v1h-1zM257 87h1v1h-1zM301 90h1v1h-1zM301 95h1v1h-1zM328 89h1v1h-1zM369 92h1v1h-1zM557 89h1v1h-1zM579 88h1v1h-1zM598 90h1v1h-1zM645 87h1v1h-1zM645 88h1v1h-1zM661 92h1v1h-1z"/>
<path fill="#ff0000" d="M171 91h1v1h-1zM110 82h1v1h-1zM145 82h1v1h-1zM171 86h1v1h-1zM171 87h1v1h-1zM171 89h1v1h-1zM189 84h1v1h-1zM301 91h1v1h-1zM301 92h1v1h-1zM328 88h1v1h-1zM369 86h1v1h-1zM369 87h1v1h-1zM369 88h1v1h-1zM369 91h1v1h-1zM561 89h1v1h-1zM579 89h1v1h-1zM661 90h1v1h-1zM661 93h1v1h-1z"/>
<path fill="#bf0000" d="M110 81h1v1h-1zM110 86h1v1h-1zM145 86h1v1h-1zM163 93h1v1h-1zM171 90h1v1h-1zM183 86h1v1h-1zM223 85h1v1h-1zM223 86h1v1h-1zM223 87h1v1h-1z"/>
<path fill="#7f0000" d="M145 83h1v1h-1zM163 91h1v1h-1zM210 85h1v1h-1zM210 86h1v1h-1zM328 87h1v1h-1zM645 86h1v1h-1z"/></g>
<rect x="73.5" y="41.5" width="615" height="89" fill="none" stroke="#000" stroke-width="1"/>
<text x="73.50" y="142.30" font-size="10.9" text-anchor="middle" >23:00:00</text>
<line x1="176.50" y1="130.50" x2="176.50" y2="125.00" stroke="#000" stroke-width="1" />
<text x="176.50" y="142.30" font-size="10.9" text-anchor="middle" >23:10:00</text>
<line x1="278.50" y1="130.50" x2="278.50" y2="125.00" stroke="#000" stroke-width="1" />
<text x="278.50" y="142.30" font-size="10.9" text-anchor="middle" >23:20:00</text>
<line x1="380.50" y1="130.50" x2="380.50" y2="125.00" stroke="#000" stroke-width="1" />
<text x="380.50" y="142.30" font-size="10.9" text-anchor="middle" >23:30:00</text>
<line x1="483.50" y1="130.50" x2="483.50" y2="125.00" stroke="#000" stroke-width="1" />
<text x="483.50" y="142.30" font-size="10.9" text-anchor="middle" >23:40:00</text>
<line x1="585.50" y1="130.50" x2="585.50" y2="125.00" stroke="#000" stroke-width="1" />
<text x="585.50" y="142.30" font-size="10.9" text-anchor="middle" >23:50:00</text>
<text x="688.50" y="142.30" font-size="10.9" text-anchor="middle" >24:00:00</text>
<text x="67.60" y="133.80" font-size="10.9" text-anchor="end" >0</text>
<line x1="73.50" y1="86.50" x2="79.00" y2="86.50" stroke="#000" stroke-width="1" />
<text x="67.60" y="89.80" font-size="10.9" text-anchor="end" >10</text>
<text x="67.60" y="44.80" font-size="10.9" text-anchor="end" >20</text>
<text x="0.00" y="0.00" font-size="11.0" text-anchor="middle" transform="translate(46.5,86.75) rotate(-90)">Altitude, km</text>
<line x1="134.00" y1="158.00" x2="134.00" y2="238.50" stroke="#eeeeee" stroke-width="2" />
<line x1="194.00" y1="158.00" x2="194.00" y2="238.50" stroke="#eeeeee" stroke-width="2" />
<line x1="255.00" y1="158.00" x2="255.00" y2="238.50" stroke="#eeeeee" stroke-width="2" />
<line x1="315.00" y1="158.00" x2="315.00" y2="238.50" stroke="#eeeeee" stroke-width="2" />
<line x1="376.00" y1="158.00" x2="376.00" y2="238.50" stroke="#eeeeee" stroke-width="2" />
<line x1="436.00" y1="158.00" x2="436.00" y2="238.50" stroke="#eeeeee" stroke-width="2" />
<line x1="497.00" y1="158.00" x2="497.00" y2="238.50" stroke="#eeeeee" stroke-width="2" />
<line x1="80.00" y1="201.00" x2="557.00" y2="201.00" stroke="#eeeeee" stroke-width="2" />
<g shape-rendering="crispEdges"><path fill="#ff44ff" d="M298.1 185h2.2v1h-2.2zM295.9 222h2.2v1h-2.2zM295.9 185h2.2v1h-2.2zM298.1 177h2.2v1h-2.2zM295.9 217h2.2v1h-2.2zM295.9 183h2.2v1h-2.2zM306.9 223h2.2v1h-2.2zM291.5 174h2.2v1h-2.2zM298.1 170h2.2v1h-2.2zM300.3 181h2.2v1h-2.2zM300.3 182h2.2v1h-2.2zM293.7 182h2.2v1h-2.2zM298.1 178h2.2v1h-2.2zM298.1 222h2.2v1h-2.2zM300.3 223h2.2v1h-2.2zM302.5 228h2.2v1h-2.2zM298.1 238h2.2v1h-2.2zM300.3 239h2.2v1h-2.2zM302.5 240h2.2v1h-2.2zM300.3 241h2.2v1h-2.2zM302.5 187h2.2v1h-2.2zM293.7 195h2.2v1h-2.2zM293.7 196h2.2v1h-2.2zM293.7 201h2.2v1h-2.2zM293.7 203h2.2v1h-2.2zM293.7 206h2.2v1h-2.2zM295.9 189h2.2v1h-2.2zM295.9 190h2.2v1h-2.2zM298.1 219h2.2v1h-2.2zM300.3 186h2.2v1h-2.2zM302.5 186h2.2v1h-2.2zM302.5 219h2.2v1h-2.2zM304.7 193h2.2v1h-2.2zM304.7 216h2.2v1h-2.2zM457.8 193.5h1.8v1h-1.8zM456 200.5h1.8v1h-1.8zM457.8 187.5h1.8v1h-1.8zM454.2 194.5h1.8v1h-1.8zM452.4 174.5h1.8v1h-1.8zM457.8 195.5h1.8v1h-1.8zM452.4 198.5h1.8v1h-1.8zM456 203.5h1.8v1h-1.8zM450.6 196.5h1.8v1h-1.8zM452.4 188.5h1.8v1h-1.8zM450.6 159.5h1.8v1h-1.8zM452.4 197.5h1.8v1h-1.8zM452.4 170.5h1.8v1h-1.8zM450.6 163.5h1.8v1h-1.8zM456 159.5h1.8v1h-1.8zM456 201.5h1.8v1h-1.8zM457.8 177.5h1.8v1h-1.8zM447 186.5h1.8v1h-1.8zM450.6 162.5h1.8v1h-1.8zM448.8 181.5h1.8v1h-1.8zM447 168.5h1.8v1h-1.8zM448.8 194.5h1.8v1h-1.8zM450.6 168.5h1.8v1h-1.8zM450.6 181.5h1.8v1h-1.8zM457.8 178.5h1.8v1h-1.8zM454.2 204.5h1.8v1h-1.8zM448.8 200.5h1.8v1h-1.8zM457.8 170.5h1.8v1h-1.8zM448.8 199.5h1.8v1h-1.8zM457.8 166.5h1.8v1h-1.8zM448.8 163.5h1.8v1h-1.8zM450.6 192.5h1.8v1h-1.8zM452.4 164.5h1.8v1h-1.8zM450.6 171.5h1.8v1h-1.8zM457.8 204.5h1.8v1h-1.8zM456 176.5h1.8v1h-1.8zM447 174.5h1.8v1h-1.8zM448.8 205.5h1.8v1h-1.8zM456 198.5h1.8v1h-1.8zM454.2 167.5h1.8v1h-1.8zM452.4 171.5h1.8v1h-1.8zM456 157.5h1.8v1h-1.8zM450.6 179.5h1.8v1h-1.8zM454.2 176.5h1.8v1h-1.8zM457.8 164.5h1.8v1h-1.8zM454.2 158.5h1.8v1h-1.8zM448.8 195.5h1.8v1h-1.8zM456 165.5h1.8v1h-1.8zM456 181.5h1.8v1h-1.8zM454.2 189.5h1.8v1h-1.8zM452.4 190.5h1.8v1h-1.8zM456 188.5h1.8v1h-1.8zM450.6 182.5h1.8v1h-1.8zM452.4 192.5h1.8v1h-1.8zM450.6 165.5h1.8v1h-1.8zM454.2 203.5h1.8v1h-1.8zM450.6 169.5h1.8v1h-1.8zM448.8 188.5h1.8v1h-1.8zM456 160.5h1.8v1h-1.8zM456 192.5h1.8v1h-1.8zM452.4 203.5h1.8v1h-1.8zM454.2 188.5h1.8v1h-1.8zM452.4 162.5h1.8v1h-1.8zM454.2 160.5h1.8v1h-1.8zM448.8 190.5h1.8v1h-1.8zM448.8 178.5h1.8v1h-1.8zM456 166.5h1.8v1h-1.8zM456 185.5h1.8v1h-1.8zM457.8 183.5h1.8v1h-1.8zM447 205.5h1.8v1h-1.8zM454.2 165.5h1.8v1h-1.8zM450.6 202.5h1.8v1h-1.8zM452.4 183.5h1.8v1h-1.8zM457.8 196.5h1.8v1h-1.8zM447 204.5h1.8v1h-1.8zM448.8 196.5h1.8v1h-1.8zM448.8 172.5h1.8v1h-1.8zM452.4 178.5h1.8v1h-1.8zM457.8 173.5h1.8v1h-1.8zM463.2 161.5h1.8v1h-1.8zM461.4 178.5h1.8v1h-1.8zM459.6 176.5h1.8v1h-1.8zM457.8 194.5h1.8v1h-1.8zM463.2 167.5h1.8v1h-1.8zM463.2 191.5h1.8v1h-1.8zM461.4 169.5h1.8v1h-1.8zM463.2 180.5h1.8v1h-1.8zM463.2 164.5h1.8v1h-1.8zM461.4 173.5h1.8v1h-1.8zM459.6 161.5h1.8v1h-1.8zM461.4 197.5h1.8v1h-1.8zM459.6 167.5h1.8v1h-1.8zM461.4 168.5h1.8v1h-1.8zM459.6 159.5h1.8v1h-1.8zM463.2 157.5h1.8v1h-1.8zM463.2 198.5h1.8v1h-1.8zM461.4 166.5h1.8v1h-1.8zM459.6 197.5h1.8v1h-1.8zM463.2 175.5h1.8v1h-1.8zM459.6 158.5h1.8v1h-1.8zM463.2 174.5h1.8v1h-1.8zM463.2 185.5h1.8v1h-1.8zM459.6 187.5h1.8v1h-1.8zM463.2 169.5h1.8v1h-1.8zM461.4 160.5h1.8v1h-1.8zM461.4 170.5h1.8v1h-1.8zM465 178.5h1.8v1h-1.8zM465 174.5h1.8v1h-1.8zM459.6 191.5h1.8v1h-1.8zM463.2 181.5h1.8v1h-1.8zM465 168.5h1.8v1h-1.8zM461.4 182.5h1.8v1h-1.8zM461.4 177.5h1.8v1h-1.8zM459.6 199.5h1.8v1h-1.8zM459.6 163.5h1.8v1h-1.8zM459.6 198.5h1.8v1h-1.8zM465 161.5h1.8v1h-1.8zM459.6 170.5h1.8v1h-1.8zM457.8 158.5h1.8v1h-1.8zM463.2 177.5h1.8v1h-1.8zM461.4 183.5h1.8v1h-1.8zM461.4 165.5h1.8v1h-1.8zM461.4 171.5h1.8v1h-1.8zM475.8 184.5h1.8v1h-1.8zM468.6 196.5h1.8v1h-1.8zM470.4 181.5h1.8v1h-1.8zM470.4 163.5h1.8v1h-1.8zM475.8 173.5h1.8v1h-1.8zM466.8 167.5h1.8v1h-1.8zM474 173.5h1.8v1h-1.8zM477.6 160.5h1.8v1h-1.8zM474 162.5h1.8v1h-1.8zM477.6 168.5h1.8v1h-1.8zM479.4 158.5h1.8v1h-1.8zM468.6 160.5h1.8v1h-1.8zM475.8 204.5h1.8v1h-1.8zM475.8 164.5h1.8v1h-1.8zM479.4 166.5h1.8v1h-1.8zM465 176.5h1.8v1h-1.8zM472.2 177.5h1.8v1h-1.8zM474 167.5h1.8v1h-1.8zM477.6 162.5h1.8v1h-1.8zM475.8 185.5h1.8v1h-1.8zM470.4 184.5h1.8v1h-1.8zM466.8 203.5h1.8v1h-1.8zM479.4 183.5h1.8v1h-1.8zM470.4 158.5h1.8v1h-1.8zM468.6 185.5h1.8v1h-1.8zM470.4 182.5h1.8v1h-1.8zM465 179.5h1.8v1h-1.8zM468.6 166.5h1.8v1h-1.8zM472.2 167.5h1.8v1h-1.8zM474 171.5h1.8v1h-1.8zM477.6 191.5h1.8v1h-1.8zM466.8 170.5h1.8v1h-1.8zM466.8 159.5h1.8v1h-1.8zM470.4 162.5h1.8v1h-1.8zM468.6 173.5h1.8v1h-1.8zM466.8 192.5h1.8v1h-1.8zM472.2 176.5h1.8v1h-1.8zM477.6 167.5h1.8v1h-1.8zM475.8 171.5h1.8v1h-1.8zM466.8 162.5h1.8v1h-1.8zM470.4 165.5h1.8v1h-1.8zM477.6 158.5h1.8v1h-1.8zM470.4 164.5h1.8v1h-1.8zM475.8 170.5h1.8v1h-1.8zM470.4 160.5h1.8v1h-1.8zM474 198.5h1.8v1h-1.8zM479.4 171.5h1.8v1h-1.8zM465 159.5h1.8v1h-1.8zM477.6 187.5h1.8v1h-1.8zM479.4 185.5h1.8v1h-1.8zM465 171.5h1.8v1h-1.8zM468.6 187.5h1.8v1h-1.8zM466.8 184.5h1.8v1h-1.8zM472.2 171.5h1.8v1h-1.8zM479.4 164.5h1.8v1h-1.8zM477.6 201.5h1.8v1h-1.8zM472.2 162.5h1.8v1h-1.8zM475.8 160.5h1.8v1h-1.8zM472.2 192.5h1.8v1h-1.8zM470.4 159.5h1.8v1h-1.8zM465 172.5h1.8v1h-1.8zM472.2 186.5h1.8v1h-1.8zM466.8 161.5h1.8v1h-1.8zM472.2 168.5h1.8v1h-1.8zM477.6 189.5h1.8v1h-1.8zM474 186.5h1.8v1h-1.8zM470.4 179.5h1.8v1h-1.8zM479.4 187.5h1.8v1h-1.8zM477.6 172.5h1.8v1h-1.8zM479.4 180.5h1.8v1h-1.8zM468.6 171.5h1.8v1h-1.8zM479.4 179.5h1.8v1h-1.8zM475.8 163.5h1.8v1h-1.8zM477.6 183.5h1.8v1h-1.8zM474 190.5h1.8v1h-1.8zM466.8 204.5h1.8v1h-1.8zM475.8 161.5h1.8v1h-1.8zM475.8 201.5h1.8v1h-1.8zM468.6 161.5h1.8v1h-1.8zM470.4 168.5h1.8v1h-1.8zM472.2 202.5h1.8v1h-1.8zM475.8 165.5h1.8v1h-1.8zM472.2 180.5h1.8v1h-1.8zM466.8 193.5h1.8v1h-1.8zM479.4 175.5h1.8v1h-1.8zM475.8 162.5h1.8v1h-1.8zM468.6 189.5h1.8v1h-1.8zM477.6 176.5h1.8v1h-1.8zM477.6 171.5h1.8v1h-1.8zM468.6 170.5h1.8v1h-1.8zM466.8 157.5h1.8v1h-1.8zM468.6 180.5h1.8v1h-1.8zM479.4 168.5h1.8v1h-1.8zM466.8 202.5h1.8v1h-1.8zM477.6 177.5h1.8v1h-1.8zM474 203.5h1.8v1h-1.8zM466.8 164.5h1.8v1h-1.8zM474 163.5h1.8v1h-1.8zM463.2 216.5h1.8v1h-1.8zM477.6 221.5h1.8v1h-1.8zM450.6 216.5h1.8v1h-1.8zM468.6 214.5h1.8v1h-1.8zM481.2 220.5h1.8v1h-1.8zM475.8 208.5h1.8v1h-1.8zM470.4 213.5h1.8v1h-1.8zM448.8 220.5h1.8v1h-1.8zM454.2 217.5h1.8v1h-1.8zM481.2 223.5h1.8v1h-1.8zM472.2 206.5h1.8v1h-1.8zM463.2 224.5h1.8v1h-1.8zM474 219.5h1.8v1h-1.8zM459.6 212.5h1.8v1h-1.8zM450.6 220.5h1.8v1h-1.8zM452.4 208.5h1.8v1h-1.8zM475.8 211.5h1.8v1h-1.8zM448.8 214.5h1.8v1h-1.8z"/>
<path fill="#7f00ff" d="M302.5 183h2.2v1h-2.2zM295.9 215h2.2v1h-2.2zM302.5 224h2.2v1h-2.2zM298.1 186h2.2v1h-2.2zM304.7 212h2.2v1h-2.2zM293.7 180h2.2v1h-2.2zM298.1 189h2.2v1h-2.2zM300.3 221h2.2v1h-2.2zM304.7 182h2.2v1h-2.2zM293.7 198h2.2v1h-2.2zM293.7 200h2.2v1h-2.2zM293.7 202h2.2v1h-2.2zM293.7 204h2.2v1h-2.2zM293.7 207h2.2v1h-2.2zM295.9 191h2.2v1h-2.2zM295.9 192h2.2v1h-2.2zM295.9 216h2.2v1h-2.2zM298.1 187h2.2v1h-2.2zM300.3 187h2.2v1h-2.2zM300.3 219h2.2v1h-2.2zM300.3 220h2.2v1h-2.2zM302.5 190h2.2v1h-2.2zM302.5 215h2.2v1h-2.2zM304.7 194h2.2v1h-2.2zM304.7 213h2.2v1h-2.2zM304.7 215h2.2v1h-2.2zM452.4 181.5h1.8v1h-1.8zM448.8 179.5h1.8v1h-1.8zM456 182.5h1.8v1h-1.8zM450.6 201.5h1.8v1h-1.8zM452.4 168.5h1.8v1h-1.8zM457.8 184.5h1.8v1h-1.8zM448.8 166.5h1.8v1h-1.8zM452.4 182.5h1.8v1h-1.8zM452.4 172.5h1.8v1h-1.8zM456 202.5h1.8v1h-1.8zM454.2 179.5h1.8v1h-1.8zM448.8 186.5h1.8v1h-1.8zM454.2 181.5h1.8v1h-1.8zM452.4 189.5h1.8v1h-1.8zM448.8 162.5h1.8v1h-1.8zM454.2 197.5h1.8v1h-1.8zM454.2 187.5h1.8v1h-1.8zM456 186.5h1.8v1h-1.8zM454.2 166.5h1.8v1h-1.8zM454.2 170.5h1.8v1h-1.8zM461.4 161.5h1.8v1h-1.8zM463.2 187.5h1.8v1h-1.8zM465 194.5h1.8v1h-1.8zM472.2 173.5h1.8v1h-1.8zM472.2 163.5h1.8v1h-1.8zM474 175.5h1.8v1h-1.8zM466.8 171.5h1.8v1h-1.8zM479.4 161.5h1.8v1h-1.8zM468.6 159.5h1.8v1h-1.8zM474 160.5h1.8v1h-1.8zM475.8 190.5h1.8v1h-1.8zM468.6 164.5h1.8v1h-1.8zM479.4 159.5h1.8v1h-1.8zM452.4 180.5h1.8v1h-1.8zM452.4 173.5h1.8v1h-1.8zM452.4 169.5h1.8v1h-1.8zM456 180.5h1.8v1h-1.8zM454.2 184.5h1.8v1h-1.8zM452.4 184.5h1.8v1h-1.8zM470.4 169.5h1.8v1h-1.8zM472.2 170.5h1.8v1h-1.8zM477.6 175.5h1.8v1h-1.8zM468.6 174.5h1.8v1h-1.8zM470.4 166.5h1.8v1h-1.8z"/>
<path fill="#0000ff" d="M304.7 196h2.2v1h-2.2zM304.7 209h2.2v1h-2.2zM300.3 240h2.2v1h-2.2zM295.9 193h2.2v1h-2.2zM295.9 212h2.2v1h-2.2zM295.9 214h2.2v1h-2.2zM298.1 188h2.2v1h-2.2zM298.1 217h2.2v1h-2.2zM298.1 218h2.2v1h-2.2zM300.3 188h2.2v1h-2.2zM300.3 189h2.2v1h-2.2zM300.3 217h2.2v1h-2.2zM300.3 218h2.2v1h-2.2zM302.5 189h2.2v1h-2.2zM302.5 191h2.2v1h-2.2zM302.5 216h2.2v1h-2.2zM302.5 217h2.2v1h-2.2zM304.7 195h2.2v1h-2.2zM304.7 197h2.2v1h-2.2zM304.7 198h2.2v1h-2.2zM304.7 199h2.2v1h-2.2zM304.7 200h2.2v1h-2.2zM304.7 205h2.2v1h-2.2zM304.7 207h2.2v1h-2.2zM304.7 210h2.2v1h-2.2zM304.7 211h2.2v1h-2.2zM447 197.5h1.8v1h-1.8zM452.4 196.5h1.8v1h-1.8zM450.6 187.5h1.8v1h-1.8zM448.8 189.5h1.8v1h-1.8zM452.4 194.5h1.8v1h-1.8zM447 173.5h1.8v1h-1.8zM452.4 193.5h1.8v1h-1.8zM448.8 171.5h1.8v1h-1.8zM448.8 175.5h1.8v1h-1.8zM452.4 195.5h1.8v1h-1.8zM452.4 163.5h1.8v1h-1.8zM452.4 160.5h1.8v1h-1.8zM474 168.5h1.8v1h-1.8zM477.6 182.5h1.8v1h-1.8zM466.8 172.5h1.8v1h-1.8zM466.8 178.5h1.8v1h-1.8zM465 169.5h1.8v1h-1.8zM479.4 163.5h1.8v1h-1.8zM472.2 191.5h1.8v1h-1.8zM450.6 189.5h1.8v1h-1.8zM452.4 179.5h1.8v1h-1.8zM448.8 184.5h1.8v1h-1.8zM450.6 170.5h1.8v1h-1.8zM454.2 190.5h1.8v1h-1.8zM456 175.5h1.8v1h-1.8zM452.4 175.5h1.8v1h-1.8zM452.4 167.5h1.8v1h-1.8zM450.6 184.5h1.8v1h-1.8zM450.6 174.5h1.8v1h-1.8zM454.2 199.5h1.8v1h-1.8zM454.2 174.5h1.8v1h-1.8zM454.2 175.5h1.8v1h-1.8zM468.6 177.5h1.8v1h-1.8zM466.8 183.5h1.8v1h-1.8z"/>
<path fill="#007fff" d="M298.1 190h2.2v1h-2.2zM295.9 213h2.2v1h-2.2zM295.9 196h2.2v1h-2.2zM298.1 216h2.2v1h-2.2zM302.5 192h2.2v1h-2.2zM304.7 201h2.2v1h-2.2zM304.7 204h2.2v1h-2.2zM304.7 206h2.2v1h-2.2zM304.7 208h2.2v1h-2.2z"/>
<path fill="#00ffff" d="M295.9 195h2.2v1h-2.2zM295.9 197h2.2v1h-2.2zM295.9 211h2.2v1h-2.2zM300.3 190h2.2v1h-2.2zM300.3 191h2.2v1h-2.2zM300.3 216h2.2v1h-2.2zM304.7 202h2.2v1h-2.2zM304.7 203h2.2v1h-2.2zM450.6 194.5h1.8v1h-1.8zM450.6 180.5h1.8v1h-1.8zM452.4 191.5h1.8v1h-1.8z"/>
<path fill="#00ff00" d="M302.5 214h2.2v1h-2.2zM295.9 194h2.2v1h-2.2zM295.9 210h2.2v1h-2.2zM298.1 191h2.2v1h-2.2zM298.1 214h2.2v1h-2.2zM298.1 215h2.2v1h-2.2zM302.5 193h2.2v1h-2.2zM302.5 194h2.2v1h-2.2zM302.5 212h2.2v1h-2.2zM302.5 213h2.2v1h-2.2zM450.6 185.5h1.8v1h-1.8zM450.6 175.5h1.8v1h-1.8z"/>
<path fill="#007f3f" d="M295.9 200h2.2v1h-2.2zM295.9 198h2.2v1h-2.2zM295.9 204h2.2v1h-2.2zM295.9 205h2.2v1h-2.2zM295.9 207h2.2v1h-2.2zM295.9 208h2.2v1h-2.2zM295.9 209h2.2v1h-2.2zM298.1 192h2.2v1h-2.2zM298.1 193h2.2v1h-2.2zM300.3 193h2.2v1h-2.2zM300.3 215h2.2v1h-2.2zM302.5 211h2.2v1h-2.2z"/>
<path fill="#3f7f7f" d="M295.9 202h2.2v1h-2.2zM295.9 199h2.2v1h-2.2zM295.9 201h2.2v1h-2.2zM295.9 206h2.2v1h-2.2zM298.1 212h2.2v1h-2.2zM298.1 213h2.2v1h-2.2zM300.3 194h2.2v1h-2.2zM300.3 213h2.2v1h-2.2zM300.3 214h2.2v1h-2.2zM302.5 195h2.2v1h-2.2zM302.5 209h2.2v1h-2.2zM302.5 210h2.2v1h-2.2z"/>
<path fill="#ffff00" d="M295.9 203h2.2v1h-2.2zM298.1 194h2.2v1h-2.2zM298.1 195h2.2v1h-2.2zM300.3 192h2.2v1h-2.2zM302.5 196h2.2v1h-2.2zM302.5 208h2.2v1h-2.2z"/>
<path fill="#ffbf7f" d="M302.5 198h2.2v1h-2.2zM300.3 212h2.2v1h-2.2zM298.1 197h2.2v1h-2.2zM298.1 210h2.2v1h-2.2zM302.5 197h2.2v1h-2.2zM302.5 205h2.2v1h-2.2z"/>
<path fill="#ff7f00" d="M300.3 210h2.2v1h-2.2zM298.1 211h2.2v1h-2.2zM302.5 199h2.2v1h-2.2zM302.5 201h2.2v1h-2.2zM302.5 202h2.2v1h-2.2z"/>
<path fill="#ff007f" d="M298.1 196h2.2v1h-2.2zM298.1 208h2.2v1h-2.2zM300.3 195h2.2v1h-2.2zM302.5 200h2.2v1h-2.2zM302.5 204h2.2v1h-2.2zM302.5 207h2.2v1h-2.2z"/>
<path fill="#ff0000" d="M298.1 198h2.2v1h-2.2zM298.1 209h2.2v1h-2.2zM300.3 196h2.2v1h-2.2zM300.3 211h2.2v1h-2.2zM302.5 203h2.2v1h-2.2zM302.5 206h2.2v1h-2.2z"/>
<path fill="#bf0000" d="M300.3 209h2.2v1h-2.2zM298.1 200h2.2v1h-2.2zM298.1 206h2.2v1h-2.2zM300.3 197h2.2v1h-2.2z"/>
<path fill="#7f0000" d="M298.1 199h2.2v1h-2.2zM298.1 205h2.2v1h-2.2zM298.1 207h2.2v1h-2.2zM300.3 198h2.2v1h-2.2zM300.3 199h2.2v1h-2.2zM300.3 208h2.2v1h-2.2z"/>
<path fill="#000000" d="M298.1 204h2.2v1h-2.2z"/>
<path fill="#7f7f7f" d="M298.1 203h2.2v1h-2.2zM298.1 201h2.2v1h-2.2zM300.3 201h2.2v1h-2.2zM300.3 203h2.2v1h-2.2zM300.3 207h2.2v1h-2.2z"/>
<path fill="#bfbfbf" d="M298.1 202h2.2v1h-2.2zM300.3 204h2.2v1h-2.2zM300.3 206h2.2v1h-2.2z"/>
<path fill="#ffffff" d="M300.3 200h2.2v1h-2.2zM300.3 202h2.2v1h-2.2zM300.3 205h2.2v1h-2.2z"/></g>
<rect x="73.5" y="157.5" width="484" height="88" fill="none" stroke="#000" stroke-width="1"/>
<text x="73.50" y="257.50" font-size="10.9" text-anchor="middle" >−400</text>
<line x1="134.50" y1="245.50" x2="134.50" y2="240.00" stroke="#000" stroke-width="1" />
<text x="134.50" y="257.50" font-size="10.9" text-anchor="middle" >−300</text>
<line x1="194.50" y1="245.50" x2="194.50" y2="240.00" stroke="#000" stroke-width="1" />
<text x="194.50" y="257.50" font-size="10.9" text-anchor="middle" >−200</text>
<line x1="255.50" y1="245.50" x2="255.50" y2="240.00" stroke="#000" stroke-width="1" />
<text x="255.50" y="257.50" font-size="10.9" text-anchor="middle" >−100</text>
<line x1="315.50" y1="245.50" x2="315.50" y2="240.00" stroke="#000" stroke-width="1" />
<text x="315.50" y="257.50" font-size="10.9" text-anchor="middle" >0</text>
<line x1="376.50" y1="245.50" x2="376.50" y2="240.00" stroke="#000" stroke-width="1" />
<text x="376.50" y="257.50" font-size="10.9" text-anchor="middle" >100</text>
<line x1="436.50" y1="245.50" x2="436.50" y2="240.00" stroke="#000" stroke-width="1" />
<text x="436.50" y="257.50" font-size="10.9" text-anchor="middle" >200</text>
<line x1="497.50" y1="245.50" x2="497.50" y2="240.00" stroke="#000" stroke-width="1" />
<text x="497.50" y="257.50" font-size="10.9" text-anchor="middle" >300</text>
<text x="557.50" y="257.50" font-size="10.9" text-anchor="middle" >400</text>
<text x="67.60" y="248.80" font-size="10.9" text-anchor="end" >0</text>
<line x1="73.50" y1="201.50" x2="79.00" y2="201.50" stroke="#000" stroke-width="1" />
<text x="67.60" y="204.80" font-size="10.9" text-anchor="end" >10</text>
<text x="67.60" y="160.80" font-size="10.9" text-anchor="end" >20</text>
<text x="0.00" y="0.00" font-size="11.0" text-anchor="middle" transform="translate(46.3,202.6) rotate(-90)">Altitude, km</text>
<text x="315.40" y="264.60" font-size="11.0" text-anchor="middle" >East-West, km</text>
<polyline fill="none" stroke="#000" stroke-width="1.5" stroke-linejoin="round" points="596.5,161.0 597.0,163.0 596.5,166.0 597.5,169.0 598.0,172.0 597.0,174.0 598.5,176.0 597.5,178.0 599.0,180.0 598.0,182.0 598.5,184.0 597.5,186.0 597.0,188.0 596.3,190.1 598.9,194.0 601.4,196.6 605.3,198.3 614.3,198.9 633.6,199.8 652.9,200.7 669.6,201.5 673.5,202.0 677.4,202.6 683.5,203.3 677.4,204.3 673.5,205.6 652.9,207.5 633.6,208.4 614.3,209.5 605.3,210.4 601.4,211.4 598.2,213.6 596.3,215.9 595.8,219.0 595.6,222.0"/>
<rect x="595.5" y="157.5" width="93" height="88" fill="none" stroke="#000" stroke-width="1"/>
<line x1="595.50" y1="242.50" x2="601.00" y2="242.50" stroke="#000" stroke-width="1" />
<text x="589.00" y="245.80" font-size="10.9" text-anchor="end" >0</text>
<line x1="595.50" y1="201.50" x2="601.00" y2="201.50" stroke="#000" stroke-width="1" />
<text x="589.00" y="204.80" font-size="10.9" text-anchor="end" >10</text>
<line x1="595.50" y1="161.50" x2="601.00" y2="161.50" stroke="#000" stroke-width="1" />
<text x="589.00" y="164.80" font-size="10.9" text-anchor="end" >20</text>
<line x1="642.50" y1="245.50" x2="642.50" y2="240.00" stroke="#000" stroke-width="1" />
<text x="595.50" y="257.50" font-size="10.9" text-anchor="middle" >0</text>
<text x="642.50" y="257.50" font-size="10.9" text-anchor="middle" >250</text>
<text x="642.30" y="166.20" font-size="8.33" text-anchor="middle" >5,212 sources</text>
<defs><clipPath id="mapclip"><rect x="73.5" y="273.5" width="484" height="436"/></clipPath></defs>
<g clip-path="url(#mapclip)" fill="none" stroke-linejoin="round">
<polyline points="73.0,276.0 123.0,276.0" stroke="#c4c4c4" stroke-width="1"/>
<polyline points="123.0,273.8 120.5,277.9 117.3,280.4 116.4,284.5 112.3,288.6 109.9,287.8 108.3,294.3 104.2,300.9 99.2,302.2 94.3,302.2 91.0,303.3 87.8,305.8 85.3,305.0 83.7,307.4" stroke="#c4c4c4" stroke-width="1"/>
<polyline points="116.0,309.4 116.0,382.0" stroke="#c4c4c4" stroke-width="1"/>
<polyline points="157.8,309.9 157.8,382.0" stroke="#c4c4c4" stroke-width="1"/>
<polyline points="215.3,273.8 211.7,278.7" stroke="#c4c4c4" stroke-width="1"/>
<polyline points="268.6,273.0 267.8,280.4 264.5,284.5 259.6,286.4 257.1,291.0 253.8,295.1 253.0,301.7 249.7,307.4" stroke="#c4c4c4" stroke-width="1"/>
<polyline points="298.6,273.0 298.6,308.3" stroke="#c4c4c4" stroke-width="1"/>
<polyline points="298.6,283.2 315.0,283.2" stroke="#c4c4c4" stroke-width="1"/>
<polyline points="301.4,309.1 300.6,313.2 292.4,318.9 291.6,322.2 290.7,368.9" stroke="#c4c4c4" stroke-width="1"/>
<polyline points="290.7,355.8 315.0,355.8" stroke="#c4c4c4" stroke-width="1"/>
<polyline points="212.4,368.9 308.3,368.9 308.3,382.0" stroke="#c4c4c4" stroke-width="1"/>
<polyline points="318.3,273.0 318.3,284.8 378.9,284.8" stroke="#c4c4c4" stroke-width="1"/>
<polyline points="341.7,273.0 341.7,284.8" stroke="#c4c4c4" stroke-width="1"/>
<polyline points="378.9,273.0 378.9,286.9 395.3,286.9" stroke="#c4c4c4" stroke-width="1"/>
<polyline points="395.3,286.9 410.9,273.8 411.7,273.0" stroke="#c4c4c4" stroke-width="1"/>
<polyline points="395.3,286.9 397.0,289.4 396.2,297.6 395.3,305.8 397.0,308.3" stroke="#c4c4c4" stroke-width="1"/>
<polyline points="343.7,284.8 343.7,294.3 348.6,297.6 350.3,301.7 354.3,308.3" stroke="#c4c4c4" stroke-width="1"/>
<polyline points="426.5,273.0 428.9,282.8 429.8,289.4 429.3,308.3" stroke="#c4c4c4" stroke-width="1"/>
<polyline points="429.8,289.4 436.0,287.8" stroke="#c4c4c4" stroke-width="1"/>
<polyline points="381.4,309.9 383.0,315.6 383.9,327.1 385.5,340.2 384.7,348.4 378.9,350.9 388.8,355.0 396.2,362.4 407.6,368.1" stroke="#c4c4c4" stroke-width="1"/>
<polyline points="424.9,309.4 426.5,312.3 424.9,322.2 418.3,325.5 416.7,335.3 419.1,343.5 419.1,353.3 436.0,353.3" stroke="#c4c4c4" stroke-width="1"/>
<polyline points="415.8,353.3 413.4,362.4 408.5,368.1 400.3,370.6 397.8,371.4" stroke="#c4c4c4" stroke-width="1"/>
<polyline points="315.0,356.1 332.2,356.1 332.2,368.9 367.5,368.9" stroke="#c4c4c4" stroke-width="1"/>
<polyline points="378.1,368.9 397.0,368.9 397.0,382.0" stroke="#c4c4c4" stroke-width="1"/>
<polyline points="378.1,368.9 378.1,373.0 369.1,373.0" stroke="#c4c4c4" stroke-width="1"/>
<polyline points="367.5,368.9 368.3,377.9 371.6,382.0" stroke="#c4c4c4" stroke-width="1"/>
<polyline points="359.3,382.0 359.3,371.4 367.5,370.1" stroke="#c4c4c4" stroke-width="1"/>
<polyline points="397.8,376.3 418.3,376.3 433.0,381.2 436.0,382.0" stroke="#c4c4c4" stroke-width="1"/>
<polyline points="436.0,287.8 440.9,285.3 450.8,283.7 454.9,279.6 462.2,273.8 463.1,273.0" stroke="#c4c4c4" stroke-width="1"/>
<polyline points="545.5,273.0 544.2,308.3" stroke="#c4c4c4" stroke-width="1"/>
<polyline points="493.4,309.9 493.4,358.3 504.9,358.3 505.7,363.2 529.5,363.2 528.6,382.0" stroke="#c4c4c4" stroke-width="1"/>
<polyline points="436.0,353.3 445.0,353.3 445.8,355.8 493.4,355.8" stroke="#c4c4c4" stroke-width="1"/>
<polyline points="469.6,355.8 471.3,359.9 474.5,371.4 472.9,377.9 473.7,382.0" stroke="#c4c4c4" stroke-width="1"/>
<polyline points="549.5,365.6 557.0,365.6" stroke="#c4c4c4" stroke-width="1"/>
<polyline points="116.0,382.0 116.0,489.9" stroke="#c4c4c4" stroke-width="1"/>
<polyline points="116.0,489.9 157.8,489.9" stroke="#c4c4c4" stroke-width="1"/>
<polyline points="157.8,382.0 157.8,389.4 167.6,389.4 167.6,398.4 166.5,399.2 166.5,452.5 165.6,457.4 166.5,464.0 165.6,491.0" stroke="#c4c4c4" stroke-width="1"/>
<polyline points="73.0,462.3 77.9,463.2 82.8,463.7 87.8,462.3 94.3,466.4 99.2,467.3 104.2,470.5 110.7,473.0 112.3,471.4 116.0,471.8" stroke="#c4c4c4" stroke-width="1"/>
<polyline points="74.6,480.4 75.5,486.9 73.8,491.0" stroke="#c4c4c4" stroke-width="1"/>
<polyline points="308.3,382.0 308.3,411.2" stroke="#c4c4c4" stroke-width="1"/>
<polyline points="212.0,432.0 243.5,432.0 243.5,411.2 284.2,411.2 285.0,408.6 289.9,408.6 290.7,411.2 308.3,411.2" stroke="#c4c4c4" stroke-width="1"/>
<polyline points="212.0,454.6 285.3,454.6" stroke="#c4c4c4" stroke-width="1"/>
<polyline points="285.3,454.6 285.3,491.0" stroke="#c4c4c4" stroke-width="1"/>
<polyline points="315.0,454.6 333.0,454.6 358.4,463.5" stroke="#c4c4c4" stroke-width="1"/>
<polyline points="358.4,463.5 358.4,474.3 420.3,474.3 420.3,453.3 421.6,452.5 421.6,416.8 436.0,416.8" stroke="#c4c4c4" stroke-width="1"/>
<polyline points="355.7,437.4 355.7,458.2 358.4,458.2" stroke="#c4c4c4" stroke-width="1"/>
<polyline points="367.8,427.6 421.6,427.6" stroke="#c4c4c4" stroke-width="1"/>
<polyline points="397.3,382.0 397.3,427.6" stroke="#c4c4c4" stroke-width="1"/>
<polyline points="385.8,474.3 385.8,491.0" stroke="#c4c4c4" stroke-width="1"/>
<polyline points="420.3,468.9 436.0,468.9" stroke="#c4c4c4" stroke-width="1"/>
<polyline points="433.0,382.0 436.0,383.6" stroke="#c4c4c4" stroke-width="1"/>
<polyline points="436.0,382.5 492.6,382.0" stroke="#c4c4c4" stroke-width="1"/>
<polyline points="495.0,382.0 509.0,403.3 513.9,405.0 513.9,414.8 502.4,414.8 501.6,413.2 486.8,420.5" stroke="#c4c4c4" stroke-width="1"/>
<polyline points="513.9,405.8 528.6,405.8 528.6,384.5 547.5,384.5" stroke="#c4c4c4" stroke-width="1"/>
<polyline points="436.0,416.4 486.5,416.4 486.5,453.3 509.0,453.3" stroke="#c4c4c4" stroke-width="1"/>
<polyline points="486.5,442.7 475.3,442.7 474.5,448.4 468.8,448.4 468.5,453.3 443.4,453.3 443.4,491.0" stroke="#c4c4c4" stroke-width="1"/>
<polyline points="436.0,468.9 443.4,468.9" stroke="#c4c4c4" stroke-width="1"/>
<polyline points="496.7,453.3 496.7,485.3 485.2,485.3 484.4,490.2 449.9,490.2 449.1,484.5 443.4,484.5" stroke="#c4c4c4" stroke-width="1"/>
<polyline points="496.7,485.3 502.4,485.3 502.4,491.0" stroke="#c4c4c4" stroke-width="1"/>
<polyline points="509.0,453.3 510.6,448.4 521.3,448.4 522.1,442.7 527.0,442.7 527.8,437.7 533.6,437.7 534.0,432.5 547.5,432.5" stroke="#c4c4c4" stroke-width="1"/>
<polyline points="508.6,453.3 508.6,471.4 547.5,471.4" stroke="#c4c4c4" stroke-width="1"/>
<polyline points="549.1,391.8 557.0,391.8" stroke="#c4c4c4" stroke-width="1"/>
<polyline points="549.1,418.4 557.0,418.4" stroke="#c4c4c4" stroke-width="1"/>
<polyline points="549.1,444.3 557.0,444.3" stroke="#c4c4c4" stroke-width="1"/>
<polyline points="549.1,471.4 557.0,471.4" stroke="#c4c4c4" stroke-width="1"/>
<polyline points="76.3,491.0 79.6,495.9 80.4,502.5 84.5,507.4 89.4,512.3 93.5,509.0 99.2,521.3 105.0,534.4 114.0,550.8 117.3,545.9 123.8,541.0 130.4,538.9 135.3,538.5" stroke="#c4c4c4" stroke-width="1"/>
<polyline points="73.0,522.2 99.2,522.2" stroke="#c4c4c4" stroke-width="1"/>
<polyline points="157.8,491.0 157.8,522.2 145.1,523.0 138.6,524.6 132.8,526.3 132.0,532.0 134.5,537.7 132.8,540.2 132.8,600.0" stroke="#c4c4c4" stroke-width="1"/>
<polyline points="164.0,491.0 164.0,503.3 162.8,504.1 162.8,515.6 158.3,515.6" stroke="#c4c4c4" stroke-width="1"/>
<polyline points="162.8,515.6 168.1,518.9 170.6,521.3 176.3,516.4 186.1,511.5 194.0,505.8" stroke="#c4c4c4" stroke-width="1"/>
<polyline points="186.5,510.7 186.5,545.9 194.0,557.4" stroke="#c4c4c4" stroke-width="1"/>
<polyline points="73.0,580.4 94.3,579.5 132.0,579.5" stroke="#c4c4c4" stroke-width="1"/>
<polyline points="132.8,584.8 194.0,584.8" stroke="#c4c4c4" stroke-width="1"/>
<polyline points="194.0,503.3 211.2,503.3" stroke="#c4c4c4" stroke-width="1"/>
<polyline points="194.0,557.4 198.9,561.5 201.4,569.7 201.4,577.9 207.9,585.3 211.2,585.3" stroke="#c4c4c4" stroke-width="1"/>
<polyline points="194.0,585.3 211.2,585.3" stroke="#c4c4c4" stroke-width="1"/>
<polyline points="285.3,491.0 285.3,521.3" stroke="#c4c4c4" stroke-width="1"/>
<polyline points="269.4,521.3 315.0,521.3" stroke="#c4c4c4" stroke-width="1"/>
<polyline points="269.4,521.3 269.4,538.2" stroke="#c4c4c4" stroke-width="1"/>
<polyline points="211.7,537.7 243.2,538.5 278.4,538.5 278.4,550.0 282.5,554.1 285.0,563.1 285.0,573.0 290.7,573.8 308.8,573.8" stroke="#c4c4c4" stroke-width="1"/>
<polyline points="211.7,563.1 221.9,563.1 222.2,574.6 233.3,574.6 233.7,579.5 239.6,579.5 239.6,600.0" stroke="#c4c4c4" stroke-width="1"/>
<polyline points="257.1,600.0 257.1,579.5 274.3,579.5 274.7,574.6 285.8,573.8" stroke="#c4c4c4" stroke-width="1"/>
<polyline points="309.6,600.0 309.6,563.1 315.0,563.1" stroke="#c4c4c4" stroke-width="1"/>
<polyline points="385.8,491.0 385.8,500.0 378.6,500.5 378.6,511.0 372.4,511.0 360.9,510.3 360.9,526.3 397.0,526.3 397.3,531.2 419.6,531.2 419.9,542.6 436.0,542.6" stroke="#c4c4c4" stroke-width="1"/>
<polyline points="315.0,521.3 360.9,521.3" stroke="#c4c4c4" stroke-width="1"/>
<polyline points="362.5,526.3 362.5,551.7 360.9,553.0 360.6,600.0" stroke="#c4c4c4" stroke-width="1"/>
<polyline points="362.5,547.6 333.0,560.7 332.2,563.1 315.0,563.1" stroke="#c4c4c4" stroke-width="1"/>
<polyline points="419.9,542.6 419.9,552.5 418.0,553.0 418.0,579.5 436.0,579.5" stroke="#c4c4c4" stroke-width="1"/>
<polyline points="443.4,491.0 443.4,526.3 442.6,532.0 443.4,538.5 442.6,541.8 436.0,542.6" stroke="#c4c4c4" stroke-width="1"/>
<polyline points="502.4,491.0 502.4,500.0 509.0,500.8 509.5,510.7 520.9,511.5 521.3,515.6 509.5,515.9 509.0,525.4 506.8,526.3 506.5,552.5 446.7,552.5 446.7,600.0" stroke="#c4c4c4" stroke-width="1"/>
<polyline points="509.5,515.9 545.9,515.6" stroke="#c4c4c4" stroke-width="1"/>
<polyline points="504.0,552.5 504.5,579.5 509.0,579.5 509.5,600.0" stroke="#c4c4c4" stroke-width="1"/>
<polyline points="436.0,579.5 446.7,579.5" stroke="#c4c4c4" stroke-width="1"/>
<polyline points="548.3,500.5 557.0,500.5" stroke="#c4c4c4" stroke-width="1"/>
<polyline points="548.3,526.7 557.0,526.7" stroke="#c4c4c4" stroke-width="1"/>
<polyline points="547.5,553.0 557.0,553.0" stroke="#c4c4c4" stroke-width="1"/>
<polyline points="546.7,579.5 557.0,579.5" stroke="#c4c4c4" stroke-width="1"/>
<polyline points="132.8,600.0 132.4,650.8" stroke="#c4c4c4" stroke-width="1"/>
<polyline points="81.2,644.3 81.2,639.3 92.7,639.3 92.7,627.5 111.5,627.1 132.4,626.7" stroke="#c4c4c4" stroke-width="1"/>
<polyline points="239.6,600.0 240.7,606.6 240.7,618.9 257.1,618.9 257.1,600.0" stroke="#c4c4c4" stroke-width="1"/>
<polyline points="309.6,600.0 309.6,623.3" stroke="#c4c4c4" stroke-width="1"/>
<polyline points="360.6,600.0 360.6,610.7" stroke="#c4c4c4" stroke-width="1"/>
<polyline points="381.4,610.7 381.9,642.6 383.9,643.4 383.9,645.9 382.2,647.5" stroke="#c4c4c4" stroke-width="1"/>
<polyline points="446.7,600.0 446.7,610.2" stroke="#c4c4c4" stroke-width="1"/>
<polyline points="509.5,600.0 509.5,610.2" stroke="#c4c4c4" stroke-width="1"/>
<polyline points="547.5,605.2 557.0,605.2" stroke="#c4c4c4" stroke-width="1"/>
<polyline points="442.6,610.2 442.2,692.6" stroke="#c4c4c4" stroke-width="1"/>
<polyline points="492.6,610.2 488.5,664.8" stroke="#c4c4c4" stroke-width="1"/>
<polyline points="492.6,610.2 503.2,618.0 507.3,624.6 514.7,630.3 520.4,632.8 522.1,642.6 525.4,645.1 534.4,646.7 549.1,648.4 557.0,652.5" stroke="#c4c4c4" stroke-width="1"/>
<polyline points="531.6,610.2 531.6,631.2 557.0,631.2" stroke="#c4c4c4" stroke-width="1"/>
<polyline points="488.5,664.8 439.3,693.5 490.1,704.9 495.0,707.4" stroke="#c4c4c4" stroke-width="1"/>
<polyline points="488.5,664.8 517.2,685.3 550.8,709.0" stroke="#c4c4c4" stroke-width="1"/>
<polyline points="517.2,685.3 549.1,649.2" stroke="#c4c4c4" stroke-width="1"/>
<polyline points="525.4,691.8 504.9,706.6 503.2,709.0" stroke="#c4c4c4" stroke-width="1"/>
<polyline points="308.5,382.0 308.5,411.2" stroke="#c4c4c4" stroke-width="1"/>
<polyline points="367.8,382.0 367.8,411.4 368.1,432.4 373.5,432.4 373.5,437.5 356.0,437.5 355.0,435.3 343.4,435.3 341.6,437.4 324.6,437.4 312.4,411.2 290.0,411.2" stroke="#c4c4c4" stroke-width="1"/>
<polyline points="315.2,416.7 367.8,416.4" stroke="#c4c4c4" stroke-width="1"/>
<polyline points="368.5,427.2 420.3,427.2" stroke="#c4c4c4" stroke-width="1"/>
<polyline points="314.4,432.1 321.7,432.1" stroke="#c4c4c4" stroke-width="1"/>
<polyline points="314.4,432.1 314.4,455.3" stroke="#c4c4c4" stroke-width="1"/>
<polyline points="73.0,642.6 98.4,650.5 258.5,650.5 258.5,623.5 349.0,623.5" stroke="#f66" stroke-width="1"/>
<polyline points="73.0,308.3 132.0,308.3 132.4,309.1 194.0,309.1" stroke="#ff0000" stroke-width="1"/>
<polyline points="194.0,308.9 315.0,308.7" stroke="#ff0000" stroke-width="1"/>
<polyline points="315.0,308.7 332.2,308.7 333.0,309.1 436.0,309.1" stroke="#ff0000" stroke-width="1"/>
<polyline points="436.0,309.1 493.4,309.1 549.5,308.3 557.0,308.3" stroke="#ff0000" stroke-width="1"/>
<polyline points="549.5,308.3 549.5,339.4" stroke="#ff0000" stroke-width="1" shape-rendering="crispEdges"/>
<polyline points="548.5,339.4 557.0,339.4" stroke="#ff0000" stroke-width="1"/>
<polyline points="548.5,339.4 548.5,382.0" stroke="#ff0000" stroke-width="1" shape-rendering="crispEdges"/>
<polyline points="548.5,382.0 547.5,491.0" stroke="#ff0000" stroke-width="1" shape-rendering="crispEdges"/>
<polyline points="548.0,491.0 545.9,600.0" stroke="#ff0000" stroke-width="1" shape-rendering="crispEdges"/>
<polyline points="346.2,610.7 436.0,610.7" stroke="#ff0000" stroke-width="1"/>
<polyline points="346.2,610.7 345.3,613.1 346.2,618.0 347.8,622.1 350.3,623.8 355.2,625.4 360.1,627.1 364.2,633.6 369.9,642.3 377.3,645.1 382.2,647.5 388.8,654.1 395.3,661.5 403.5,665.6 406.8,671.3 414.2,676.2 415.8,680.0 421.6,682.0 424.9,682.8 429.8,686.1 436.0,690.2" stroke="#ff0000" stroke-width="1"/>
<polyline points="436.0,610.2 546.2,610.2" stroke="#ff0000" stroke-width="1"/>
<polyline points="546.2,610.2 546.2,600.0" stroke="#ff0000" stroke-width="1" shape-rendering="crispEdges"/>
<polyline points="436.0,689.8 438.5,691.8 440.1,694.3 443.4,697.6 445.0,703.3 446.7,709.0" stroke="#ff0000" stroke-width="1"/>
<polyline points="211.5,273.0 211.5,650.5" stroke="#ff0000" stroke-width="1"/>
</g>
<g shape-rendering="crispEdges"><path fill="#ff44ff" d="M293.5 539.25h1.75v1.75h-1.75zM300.5 528.75h1.75v1.75h-1.75zM302.25 528.75h1.75v1.75h-1.75zM307.5 535.75h1.75v1.75h-1.75zM293.5 548h1.75v1.75h-1.75zM293.5 546.25h1.75v1.75h-1.75zM298.75 546.25h1.75v1.75h-1.75zM295.25 548h1.75v1.75h-1.75zM295.25 546.25h1.75v1.75h-1.75zM291.75 551.5h1.75v1.75h-1.75zM291.75 549.75h1.75v1.75h-1.75zM295.25 549.75h1.75v1.75h-1.75zM295.25 544.5h1.75v1.75h-1.75zM297 548h1.75v1.75h-1.75zM305.75 530.5h1.75v1.75h-1.75zM305.75 528.75h1.75v1.75h-1.75zM307.5 530.5h1.75v1.75h-1.75zM305.75 527h1.75v1.75h-1.75zM445.25 527.75h1.75v1.75h-1.75zM448.75 522.5h1.75v1.75h-1.75zM448.75 534.75h1.75v1.75h-1.75zM448.75 536.5h1.75v1.75h-1.75zM450.5 522.5h1.75v1.75h-1.75zM450.5 536.5h1.75v1.75h-1.75zM450.5 538.25h1.75v1.75h-1.75zM454 524.25h1.75v1.75h-1.75zM454 536.5h1.75v1.75h-1.75zM454 540h1.75v1.75h-1.75zM455.75 538.25h1.75v1.75h-1.75zM459.25 543.5h1.75v1.75h-1.75zM462.75 529.5h1.75v1.75h-1.75zM447 543.5h1.75v1.75h-1.75zM461 522.5h1.75v1.75h-1.75zM457.5 538.25h1.75v1.75h-1.75zM457.5 541.75h1.75v1.75h-1.75zM457.5 527.75h1.75v1.75h-1.75zM462.75 541.75h1.75v1.75h-1.75zM459.25 541.75h1.75v1.75h-1.75zM468 517.25h1.75v1.75h-1.75zM469.75 517.25h1.75v1.75h-1.75zM476.75 524.25h1.75v1.75h-1.75zM476.75 526h1.75v1.75h-1.75zM478.5 529.5h1.75v1.75h-1.75zM480.25 531.25h1.75v1.75h-1.75zM473.25 524.25h1.75v1.75h-1.75zM480.25 533h1.75v1.75h-1.75zM462.75 579.5h1.75v1.75h-1.75zM468 572.5h1.75v1.75h-1.75zM455.75 570.75h1.75v1.75h-1.75zM464.5 577.75h1.75v1.75h-1.75zM478.5 584.75h1.75v1.75h-1.75zM461 565.5h1.75v1.75h-1.75zM457.5 570.75h1.75v1.75h-1.75zM469.75 576h1.75v1.75h-1.75zM468 567.25h1.75v1.75h-1.75zM469.75 570.75h1.75v1.75h-1.75zM466.25 581.25h1.75v1.75h-1.75zM457.5 569h1.75v1.75h-1.75zM483.75 581.25h1.75v1.75h-1.75zM461 569h1.75v1.75h-1.75zM480.25 583h1.75v1.75h-1.75zM480.25 579.5h1.75v1.75h-1.75zM473.25 581.25h1.75v1.75h-1.75zM464.5 579.5h1.75v1.75h-1.75zM455.75 572.5h1.75v1.75h-1.75zM469.75 574.25h1.75v1.75h-1.75zM471.5 586.5h1.75v1.75h-1.75zM457.5 565.5h1.75v1.75h-1.75zM480.25 576h1.75v1.75h-1.75zM462.75 576h1.75v1.75h-1.75zM452.25 574.25h1.75v1.75h-1.75zM476.75 576h1.75v1.75h-1.75zM466.25 574.25h1.75v1.75h-1.75zM475 583h1.75v1.75h-1.75zM468 579.5h1.75v1.75h-1.75zM464.5 567.25h1.75v1.75h-1.75zM473.25 588.25h1.75v1.75h-1.75zM473.25 583h1.75v1.75h-1.75zM478.5 586.5h1.75v1.75h-1.75zM459.25 563.75h1.75v1.75h-1.75zM478.5 576h1.75v1.75h-1.75zM469.75 572.5h1.75v1.75h-1.75zM482 581.25h1.75v1.75h-1.75zM455.75 577.75h1.75v1.75h-1.75zM454 570.75h1.75v1.75h-1.75zM461 579.5h1.75v1.75h-1.75zM483.75 576h1.75v1.75h-1.75zM459.25 581.25h1.75v1.75h-1.75zM475 584.75h1.75v1.75h-1.75zM483.75 579.5h1.75v1.75h-1.75zM434.5 560.5h1.75v1.75h-1.75zM436 558.5h1.75v1.75h-1.75z"/>
<path fill="#7f00ff" d="M293.5 534h1.75v1.75h-1.75zM293.5 535.75h1.75v1.75h-1.75zM293.5 537.5h1.75v1.75h-1.75zM298.75 528.75h1.75v1.75h-1.75zM300.5 542.75h1.75v1.75h-1.75zM302.25 542.75h1.75v1.75h-1.75zM305.75 539.25h1.75v1.75h-1.75zM445.25 526h1.75v1.75h-1.75zM447 522.5h1.75v1.75h-1.75zM447 526h1.75v1.75h-1.75zM448.75 524.25h1.75v1.75h-1.75zM452.25 538.25h1.75v1.75h-1.75zM454 538.25h1.75v1.75h-1.75zM455.75 534.75h1.75v1.75h-1.75zM455.75 536.5h1.75v1.75h-1.75zM457.5 531.25h1.75v1.75h-1.75zM461 540h1.75v1.75h-1.75zM447 534.75h1.75v1.75h-1.75zM462.75 524.25h1.75v1.75h-1.75zM457.5 536.5h1.75v1.75h-1.75zM468 519h1.75v1.75h-1.75zM468 520.75h1.75v1.75h-1.75zM469.75 522.5h1.75v1.75h-1.75zM461 567.25h1.75v1.75h-1.75zM476.75 581.25h1.75v1.75h-1.75zM457.5 577.75h1.75v1.75h-1.75zM468 577.75h1.75v1.75h-1.75zM466.25 572.5h1.75v1.75h-1.75zM478.5 581.25h1.75v1.75h-1.75zM457.5 574.25h1.75v1.75h-1.75zM462.75 569h1.75v1.75h-1.75zM461 574.25h1.75v1.75h-1.75zM455.75 569h1.75v1.75h-1.75zM475 579.5h1.75v1.75h-1.75zM468 576h1.75v1.75h-1.75zM471.5 577.75h1.75v1.75h-1.75zM464.5 570.75h1.75v1.75h-1.75zM475 581.25h1.75v1.75h-1.75zM476.75 579.5h1.75v1.75h-1.75zM471.5 581.25h1.75v1.75h-1.75zM480.25 581.25h1.75v1.75h-1.75zM459.25 567.25h1.75v1.75h-1.75zM473.25 577.75h1.75v1.75h-1.75zM461 572.5h1.75v1.75h-1.75zM459.25 570.75h1.75v1.75h-1.75zM459.25 569h1.75v1.75h-1.75zM471.5 579.5h1.75v1.75h-1.75z"/>
<path fill="#0000ff" d="M295.25 532.25h1.75v1.75h-1.75zM297 530.5h1.75v1.75h-1.75zM304 541h1.75v1.75h-1.75zM305.75 532.25h1.75v1.75h-1.75zM445.25 529.5h1.75v1.75h-1.75zM447 524.25h1.75v1.75h-1.75zM447 527.75h1.75v1.75h-1.75zM447 529.5h1.75v1.75h-1.75zM447 533h1.75v1.75h-1.75zM448.75 526h1.75v1.75h-1.75zM448.75 531.25h1.75v1.75h-1.75zM448.75 533h1.75v1.75h-1.75zM450.5 524.25h1.75v1.75h-1.75zM450.5 534.75h1.75v1.75h-1.75zM452.25 536.5h1.75v1.75h-1.75zM454 534.75h1.75v1.75h-1.75zM455.75 526h1.75v1.75h-1.75zM455.75 527.75h1.75v1.75h-1.75zM455.75 531.25h1.75v1.75h-1.75zM457.5 533h1.75v1.75h-1.75zM459.25 538.25h1.75v1.75h-1.75zM469.75 520.75h1.75v1.75h-1.75zM471.5 519h1.75v1.75h-1.75zM471.5 520.75h1.75v1.75h-1.75zM466.25 576h1.75v1.75h-1.75zM469.75 579.5h1.75v1.75h-1.75zM462.75 572.5h1.75v1.75h-1.75zM462.75 574.25h1.75v1.75h-1.75zM469.75 577.75h1.75v1.75h-1.75zM485.5 579.5h1.75v1.75h-1.75zM459.25 576h1.75v1.75h-1.75zM468 574.25h1.75v1.75h-1.75zM461 570.75h1.75v1.75h-1.75zM464.5 574.25h1.75v1.75h-1.75zM459.25 572.5h1.75v1.75h-1.75zM478.5 583h1.75v1.75h-1.75zM473.25 579.5h1.75v1.75h-1.75zM457.5 572.5h1.75v1.75h-1.75z"/>
<path fill="#007fff" d="M295.25 539.25h1.75v1.75h-1.75zM297 541h1.75v1.75h-1.75zM304 530.5h1.75v1.75h-1.75zM305.75 537.5h1.75v1.75h-1.75zM447 531.25h1.75v1.75h-1.75zM450.5 527.75h1.75v1.75h-1.75zM452.25 524.25h1.75v1.75h-1.75zM452.25 534.75h1.75v1.75h-1.75zM454 527.75h1.75v1.75h-1.75zM469.75 519h1.75v1.75h-1.75z"/>
<path fill="#00ffff" d="M298.75 541h1.75v1.75h-1.75zM302.25 530.5h1.75v1.75h-1.75zM302.25 541h1.75v1.75h-1.75zM305.75 535.75h1.75v1.75h-1.75zM448.75 529.5h1.75v1.75h-1.75zM452.25 526h1.75v1.75h-1.75zM454 526h1.75v1.75h-1.75zM454 533h1.75v1.75h-1.75zM455.75 533h1.75v1.75h-1.75zM468 581.25h1.75v1.75h-1.75z"/>
<path fill="#00ff00" d="M305.75 534h1.75v1.75h-1.75zM450.5 531.25h1.75v1.75h-1.75zM452.25 527.75h1.75v1.75h-1.75zM452.25 531.25h1.75v1.75h-1.75zM452.25 533h1.75v1.75h-1.75z"/>
<path fill="#007f3f" d="M295.25 534h1.75v1.75h-1.75zM295.25 535.75h1.75v1.75h-1.75zM295.25 537.5h1.75v1.75h-1.75zM298.75 530.5h1.75v1.75h-1.75zM300.5 530.5h1.75v1.75h-1.75zM300.5 541h1.75v1.75h-1.75zM304 539.25h1.75v1.75h-1.75zM448.75 527.75h1.75v1.75h-1.75zM450.5 533h1.75v1.75h-1.75zM452.25 529.5h1.75v1.75h-1.75zM454 529.5h1.75v1.75h-1.75z"/>
<path fill="#3f7f7f" d="M297 532.25h1.75v1.75h-1.75zM450.5 529.5h1.75v1.75h-1.75zM454 531.25h1.75v1.75h-1.75zM455.75 529.5h1.75v1.75h-1.75z"/>
<path fill="#ffff00" d="M297 539.25h1.75v1.75h-1.75zM304 532.25h1.75v1.75h-1.75zM450.5 526h1.75v1.75h-1.75z"/>
<path fill="#ff7f00" d="M304 537.5h1.75v1.75h-1.75z"/>
<path fill="#ff007f" d="M298.75 532.25h1.75v1.75h-1.75zM302.25 539.25h1.75v1.75h-1.75zM304 534h1.75v1.75h-1.75z"/>
<path fill="#bf0000" d="M297 534h1.75v1.75h-1.75zM297 537.5h1.75v1.75h-1.75zM298.75 539.25h1.75v1.75h-1.75zM300.5 532.25h1.75v1.75h-1.75zM302.25 532.25h1.75v1.75h-1.75zM304 535.75h1.75v1.75h-1.75z"/>
<path fill="#7f0000" d="M300.5 539.25h1.75v1.75h-1.75z"/>
<path fill="#000000" d="M297 535.75h1.75v1.75h-1.75zM302.25 537.5h1.75v1.75h-1.75z"/>
<path fill="#ffffff" d="M298.75 534h1.75v1.75h-1.75zM298.75 535.75h1.75v1.75h-1.75zM298.75 537.5h1.75v1.75h-1.75zM300.5 534h1.75v1.75h-1.75zM300.5 535.75h1.75v1.75h-1.75zM300.5 537.5h1.75v1.75h-1.75zM302.25 534h1.75v1.75h-1.75zM302.25 535.75h1.75v1.75h-1.75z"/></g>
<g fill="none" stroke="#80ff33" stroke-width="1.15"><rect x="334.5" y="417.5" width="6" height="6"/><rect x="353.5" y="430.5" width="6" height="6"/><rect x="379.5" y="428.5" width="6" height="6"/><rect x="332.5" y="448.5" width="6" height="6"/><rect x="318.5" y="475.5" width="6" height="6"/><rect x="318.5" y="482.5" width="6" height="6"/><rect x="306.5" y="481.5" width="6" height="6"/><rect x="301.5" y="486.5" width="6" height="6"/><rect x="308.5" y="486.5" width="6" height="6"/><rect x="304.5" y="489.5" width="6" height="6"/><rect x="312.5" y="488.5" width="6" height="6"/><rect x="320.5" y="487.5" width="6" height="6"/><rect x="329.5" y="486.5" width="6" height="6"/><rect x="318.5" y="494.5" width="6" height="6"/><rect x="321.5" y="501.5" width="6" height="6"/><rect x="316.5" y="509.5" width="6" height="6"/></g>
<rect x="73.5" y="273.5" width="484" height="436" fill="none" stroke="#000" stroke-width="1"/>
<line x1="102.50" y1="709.50" x2="102.50" y2="704.00" stroke="#000" stroke-width="1" />
<text x="102.50" y="721.50" font-size="10.9" text-anchor="middle" >−111</text>
<line x1="158.50" y1="709.50" x2="158.50" y2="704.00" stroke="#000" stroke-width="1" />
<text x="158.50" y="721.50" font-size="10.9" text-anchor="middle" >−110</text>
<line x1="214.50" y1="709.50" x2="214.50" y2="704.00" stroke="#000" stroke-width="1" />
<text x="214.50" y="721.50" font-size="10.9" text-anchor="middle" >−109</text>
<line x1="270.50" y1="709.50" x2="270.50" y2="704.00" stroke="#000" stroke-width="1" />
<text x="270.50" y="721.50" font-size="10.9" text-anchor="middle" >−108</text>
<line x1="326.50" y1="709.50" x2="326.50" y2="704.00" stroke="#000" stroke-width="1" />
<text x="326.50" y="721.50" font-size="10.9" text-anchor="middle" >−107</text>
<line x1="382.50" y1="709.50" x2="382.50" y2="704.00" stroke="#000" stroke-width="1" />
<text x="382.50" y="721.50" font-size="10.9" text-anchor="middle" >−106</text>
<line x1="438.50" y1="709.50" x2="438.50" y2="704.00" stroke="#000" stroke-width="1" />
<text x="438.50" y="721.50" font-size="10.9" text-anchor="middle" >−105</text>
<line x1="494.50" y1="709.50" x2="494.50" y2="704.00" stroke="#000" stroke-width="1" />
<text x="494.50" y="721.50" font-size="10.9" text-anchor="middle" >−104</text>
<line x1="550.50" y1="709.50" x2="550.50" y2="704.00" stroke="#000" stroke-width="1" />
<text x="550.50" y="721.50" font-size="10.9" text-anchor="middle" >−103</text>
<line x1="73.50" y1="671.50" x2="79.00" y2="671.50" stroke="#000" stroke-width="1" />
<text x="67.60" y="674.80" font-size="10.9" text-anchor="end" >31</text>
<line x1="73.50" y1="611.50" x2="79.00" y2="611.50" stroke="#000" stroke-width="1" />
<text x="67.60" y="614.80" font-size="10.9" text-anchor="end" >32</text>
<line x1="73.50" y1="550.50" x2="79.00" y2="550.50" stroke="#000" stroke-width="1" />
<text x="67.60" y="553.80" font-size="10.9" text-anchor="end" >33</text>
<line x1="73.50" y1="490.50" x2="79.00" y2="490.50" stroke="#000" stroke-width="1" />
<text x="67.60" y="493.80" font-size="10.9" text-anchor="end" >34</text>
<line x1="73.50" y1="430.50" x2="79.00" y2="430.50" stroke="#000" stroke-width="1" />
<text x="67.60" y="433.80" font-size="10.9" text-anchor="end" >35</text>
<line x1="73.50" y1="369.50" x2="79.00" y2="369.50" stroke="#000" stroke-width="1" />
<text x="67.60" y="372.80" font-size="10.9" text-anchor="end" >36</text>
<line x1="73.50" y1="309.50" x2="79.00" y2="309.50" stroke="#000" stroke-width="1" />
<text x="67.60" y="312.80" font-size="10.9" text-anchor="end" >37</text>
<text x="0.00" y="0.00" font-size="11.0" text-anchor="middle" transform="translate(46.9,493.9) rotate(-90)">Latitude</text>
<text x="315.40" y="740.60" font-size="11.0" text-anchor="middle" >Longitude</text>
<line x1="641.00" y1="274.00" x2="641.00" y2="702.50" stroke="#eeeeee" stroke-width="2" />
<line x1="602.00" y1="654.00" x2="688.00" y2="654.00" stroke="#eeeeee" stroke-width="2" />
<line x1="602.00" y1="600.00" x2="688.00" y2="600.00" stroke="#eeeeee" stroke-width="2" />
<line x1="602.00" y1="545.00" x2="688.00" y2="545.00" stroke="#eeeeee" stroke-width="2" />
<line x1="602.00" y1="491.00" x2="688.00" y2="491.00" stroke="#eeeeee" stroke-width="2" />
<line x1="602.00" y1="436.00" x2="688.00" y2="436.00" stroke="#eeeeee" stroke-width="2" />
<line x1="602.00" y1="382.00" x2="688.00" y2="382.00" stroke="#eeeeee" stroke-width="2" />
<line x1="602.00" y1="327.00" x2="688.00" y2="327.00" stroke="#eeeeee" stroke-width="2" />
<g shape-rendering="crispEdges"><path fill="#ff44ff" d="M664.5 518.2h1v1.7h-1zM685.5 516.5h1v1.7h-1zM655.5 540.3h1v1.7h-1zM673.5 528.4h1v1.7h-1zM668.5 536.9h1v1.7h-1zM688.5 528.4h1v1.7h-1zM684.5 526.7h1v1.7h-1zM646.5 526.7h1v1.7h-1zM680.5 536.9h1v1.7h-1zM672.5 531.8h1v1.7h-1zM646.5 523.3h1v1.7h-1zM641.5 523.3h1v1.7h-1zM682.5 533.5h1v1.7h-1zM657.5 528.4h1v1.7h-1zM649.5 543.7h1v1.7h-1zM664.5 540.3h1v1.7h-1zM668.5 518.2h1v1.7h-1zM658.5 526.7h1v1.7h-1zM660.5 535.2h1v1.7h-1zM679.5 535.2h1v1.7h-1zM669.5 543.7h1v1.7h-1zM687.5 511.4h1v1.7h-1zM685.5 523.3h1v1.7h-1zM676.5 521.6h1v1.7h-1zM680.5 531.8h1v1.7h-1zM684.5 540.3h1v1.7h-1zM643.5 526.7h1v1.7h-1zM668.5 535.2h1v1.7h-1zM678.5 531.8h1v1.7h-1zM648.5 543.7h1v1.7h-1zM680.5 535.2h1v1.7h-1zM651.5 530.1h1v1.7h-1zM663.5 543.7h1v1.7h-1zM675.5 528.4h1v1.7h-1zM672.5 528.4h1v1.7h-1zM652.5 540.3h1v1.7h-1zM672.5 535.2h1v1.7h-1zM678.5 526.7h1v1.7h-1zM663.5 530.1h1v1.7h-1zM651.5 523.3h1v1.7h-1zM675.5 531.8h1v1.7h-1zM680.5 540.3h1v1.7h-1zM683.5 523.3h1v1.7h-1zM687.5 538.6h1v1.7h-1zM686.5 521.6h1v1.7h-1zM649.5 518.2h1v1.7h-1zM664.5 542h1v1.7h-1zM687.5 535.2h1v1.7h-1zM674.5 514.8h1v1.7h-1zM686.5 536.9h1v1.7h-1zM658.5 538.6h1v1.7h-1zM662.5 538.6h1v1.7h-1zM669.5 540.3h1v1.7h-1zM687.5 542h1v1.7h-1zM660.5 531.8h1v1.7h-1zM651.5 542h1v1.7h-1zM688.5 531.8h1v1.7h-1zM667.5 528.4h1v1.7h-1zM678.5 528.4h1v1.7h-1zM667.5 521.6h1v1.7h-1zM684.5 523.3h1v1.7h-1zM651.5 533.5h1v1.7h-1zM688.5 540.3h1v1.7h-1zM686.5 531.8h1v1.7h-1zM657.5 536.9h1v1.7h-1zM669.5 531.8h1v1.7h-1zM663.5 538.6h1v1.7h-1zM651.5 514.8h1v1.7h-1zM684.5 536.9h1v1.7h-1zM666.5 521.6h1v1.7h-1zM648.5 516.5h1v1.7h-1zM684.5 521.6h1v1.7h-1zM665.5 535.2h1v1.7h-1zM655.5 530.1h1v1.7h-1zM661.5 533.5h1v1.7h-1zM679.5 530.1h1v1.7h-1zM679.5 543.7h1v1.7h-1zM687.5 536.9h1v1.7h-1zM652.5 526.7h1v1.7h-1zM676.5 518.2h1v1.7h-1zM679.5 523.3h1v1.7h-1zM669.5 523.3h1v1.7h-1zM671.5 531.8h1v1.7h-1zM684.5 525h1v1.7h-1zM682.5 516.5h1v1.7h-1zM687.5 528.4h1v1.7h-1zM653.5 521.6h1v1.7h-1zM657.5 533.5h1v1.7h-1zM661.5 521.6h1v1.7h-1zM674.5 531.8h1v1.7h-1zM674.5 528.4h1v1.7h-1zM685.5 526.7h1v1.7h-1zM684.5 530.1h1v1.7h-1zM665.5 528.4h1v1.7h-1zM648.5 526.7h1v1.7h-1zM664.5 543.7h1v1.7h-1zM677.5 536.9h1v1.7h-1zM664.5 516.5h1v1.7h-1zM650.5 523.3h1v1.7h-1zM657.5 523.3h1v1.7h-1zM671.5 533.5h1v1.7h-1zM649.5 526.7h1v1.7h-1zM684.5 531.8h1v1.7h-1zM677.5 530.1h1v1.7h-1zM676.5 538.6h1v1.7h-1zM675.5 535.2h1v1.7h-1zM657.5 538.6h1v1.7h-1zM681.5 521.6h1v1.7h-1zM655.5 531.8h1v1.7h-1zM674.5 545.4h1v1.7h-1zM642.5 523.3h1v1.7h-1zM648.5 542h1v1.7h-1zM642.5 525h1v1.7h-1zM654.5 525h1v1.7h-1zM680.5 519.9h1v1.7h-1zM653.5 518.2h1v1.7h-1zM675.5 519.9h1v1.7h-1zM661.5 523.3h1v1.7h-1zM651.5 540.3h1v1.7h-1zM656.5 530.1h1v1.7h-1zM682.5 535.2h1v1.7h-1zM682.5 521.6h1v1.7h-1zM676.5 519.9h1v1.7h-1zM685.5 530.1h1v1.7h-1zM662.5 514.8h1v1.7h-1zM651.5 513.1h1v1.7h-1zM664.5 523.3h1v1.7h-1zM672.5 519.9h1v1.7h-1zM684.5 528.4h1v1.7h-1zM666.5 536.9h1v1.7h-1zM674.5 516.5h1v1.7h-1zM678.5 545.4h1v1.7h-1zM684.5 538.6h1v1.7h-1zM647.5 521.6h1v1.7h-1zM676.5 530.1h1v1.7h-1zM660.5 525h1v1.7h-1zM663.5 533.5h1v1.7h-1zM656.5 533.5h1v1.7h-1zM679.5 528.4h1v1.7h-1zM668.5 523.3h1v1.7h-1zM667.5 540.3h1v1.7h-1zM649.5 521.6h1v1.7h-1zM664.5 531.8h1v1.7h-1zM661.5 535.2h1v1.7h-1zM652.5 538.6h1v1.7h-1zM666.5 525h1v1.7h-1zM679.5 536.9h1v1.7h-1zM660.5 530.1h1v1.7h-1zM668.5 525h1v1.7h-1zM653.5 519.9h1v1.7h-1zM655.5 513.1h1v1.7h-1zM658.5 543.7h1v1.7h-1zM677.5 535.2h1v1.7h-1zM672.5 518.2h1v1.7h-1zM653.5 525h1v1.7h-1zM654.5 526.7h1v1.7h-1zM686.5 530.1h1v1.7h-1zM673.5 525h1v1.7h-1zM684.5 533.5h1v1.7h-1zM622.5 535.2h1v1.7h-1zM624.5 538.6h1v1.7h-1zM641.5 543.7h1v1.7h-1zM620.5 536.9h1v1.7h-1zM626.5 531.8h1v1.7h-1zM622.5 533.5h1v1.7h-1zM653.5 542h1v1.7h-1zM620.5 540.3h1v1.7h-1zM651.5 531.8h1v1.7h-1zM653.5 536.9h1v1.7h-1zM623.5 536.9h1v1.7h-1zM598.5 531.8h1v1.7h-1zM596.5 531.8h1v1.7h-1zM601.5 528.4h1v1.7h-1zM596.5 533.5h1v1.7h-1zM597.5 533.5h1v1.7h-1zM597.5 530.1h1v1.7h-1zM626.5 538.6h1v1.7h-1zM628.5 531.8h1v1.7h-1zM629.5 531.8h1v1.7h-1zM631.5 530.1h1v1.7h-1zM632.5 530.1h1v1.7h-1zM638.5 530.1h1v1.7h-1zM640.5 530.1h1v1.7h-1zM641.5 530.1h1v1.7h-1zM642.5 530.1h1v1.7h-1zM643.5 530.1h1v1.7h-1zM647.5 540.3h1v1.7h-1zM650.5 538.6h1v1.7h-1zM665.5 567.5h1v1.7h-1zM636.5 581.1h1v1.7h-1zM684.5 574.3h1v1.7h-1zM677.5 572.6h1v1.7h-1zM679.5 591.3h1v1.7h-1zM670.5 586.2h1v1.7h-1zM668.5 579.4h1v1.7h-1zM676.5 577.7h1v1.7h-1zM688.5 591.3h1v1.7h-1zM684.5 587.9h1v1.7h-1zM686.5 577.7h1v1.7h-1zM639.5 569.2h1v1.7h-1zM633.5 587.9h1v1.7h-1zM653.5 576h1v1.7h-1zM688.5 567.5h1v1.7h-1zM686.5 581.1h1v1.7h-1zM625.5 591.3h1v1.7h-1zM662.5 565.8h1v1.7h-1zM651.5 591.3h1v1.7h-1zM642.5 589.6h1v1.7h-1zM679.5 574.3h1v1.7h-1zM679.5 584.5h1v1.7h-1zM678.5 579.4h1v1.7h-1zM686.5 584.5h1v1.7h-1zM671.5 581.1h1v1.7h-1zM682.5 579.4h1v1.7h-1zM674.5 586.2h1v1.7h-1zM680.5 570.9h1v1.7h-1zM635.5 581.1h1v1.7h-1zM682.5 581.1h1v1.7h-1zM679.5 579.4h1v1.7h-1zM683.5 584.5h1v1.7h-1zM654.5 574.3h1v1.7h-1zM628.5 565.8h1v1.7h-1zM684.5 569.2h1v1.7h-1zM675.5 591.3h1v1.7h-1zM685.5 574.3h1v1.7h-1zM654.5 570.9h1v1.7h-1zM667.5 582.8h1v1.7h-1zM688.5 570.9h1v1.7h-1zM653.5 586.2h1v1.7h-1zM664.5 565.8h1v1.7h-1zM677.5 584.5h1v1.7h-1zM633.5 579.4h1v1.7h-1zM631.5 579.4h1v1.7h-1zM676.5 579.4h1v1.7h-1zM654.5 576h1v1.7h-1zM683.5 586.2h1v1.7h-1zM645.5 577.7h1v1.7h-1zM677.5 576h1v1.7h-1zM650.5 569.2h1v1.7h-1zM662.5 567.5h1v1.7h-1zM628.5 582.8h1v1.7h-1zM686.5 576h1v1.7h-1zM688.5 577.7h1v1.7h-1zM669.5 577.7h1v1.7h-1zM673.5 586.2h1v1.7h-1zM669.5 584.5h1v1.7h-1zM661.5 591.3h1v1.7h-1zM647.5 577.7h1v1.7h-1zM680.5 582.8h1v1.7h-1zM674.5 564.1h1v1.7h-1zM662.5 589.6h1v1.7h-1zM670.5 565.8h1v1.7h-1zM646.5 567.5h1v1.7h-1zM629.5 591.3h1v1.7h-1zM675.5 584.5h1v1.7h-1zM655.5 582.8h1v1.7h-1zM631.5 587.9h1v1.7h-1zM641.5 581.1h1v1.7h-1zM663.5 569.2h1v1.7h-1zM624.5 582.8h1v1.7h-1zM661.5 567.5h1v1.7h-1zM630.5 570.9h1v1.7h-1zM680.5 577.7h1v1.7h-1zM680.5 567.5h1v1.7h-1zM639.5 572.6h1v1.7h-1zM683.5 589.6h1v1.7h-1zM637.5 587.9h1v1.7h-1zM657.5 587.9h1v1.7h-1zM656.5 587.9h1v1.7h-1zM684.5 572.6h1v1.7h-1zM672.5 565.8h1v1.7h-1zM640.5 577.7h1v1.7h-1zM663.5 565.8h1v1.7h-1zM660.5 587.9h1v1.7h-1zM648.5 591.3h1v1.7h-1zM683.5 569.2h1v1.7h-1zM648.5 572.6h1v1.7h-1zM674.5 565.8h1v1.7h-1z"/>
<path fill="#7f00ff" d="M673.5 535.2h1v1.7h-1zM667.5 533.5h1v1.7h-1zM681.5 533.5h1v1.7h-1zM668.5 533.5h1v1.7h-1zM671.5 516.5h1v1.7h-1zM683.5 526.7h1v1.7h-1zM652.5 535.2h1v1.7h-1zM682.5 531.8h1v1.7h-1zM647.5 542h1v1.7h-1zM685.5 535.2h1v1.7h-1zM666.5 535.2h1v1.7h-1zM670.5 525h1v1.7h-1zM663.5 518.2h1v1.7h-1zM655.5 523.3h1v1.7h-1zM670.5 543.7h1v1.7h-1zM642.5 540.3h1v1.7h-1zM681.5 518.2h1v1.7h-1zM644.5 523.3h1v1.7h-1zM651.5 538.6h1v1.7h-1zM644.5 540.3h1v1.7h-1zM680.5 538.6h1v1.7h-1zM676.5 525h1v1.7h-1zM624.5 535.2h1v1.7h-1zM626.5 540.3h1v1.7h-1zM649.5 531.8h1v1.7h-1zM617.5 535.2h1v1.7h-1zM637.5 530.1h1v1.7h-1zM625.5 535.2h1v1.7h-1zM626.5 533.5h1v1.7h-1zM627.5 538.6h1v1.7h-1zM629.5 540.3h1v1.7h-1zM630.5 531.8h1v1.7h-1zM630.5 540.3h1v1.7h-1zM632.5 540.3h1v1.7h-1zM635.5 530.1h1v1.7h-1zM645.5 540.3h1v1.7h-1zM646.5 540.3h1v1.7h-1zM648.5 531.8h1v1.7h-1zM649.5 538.6h1v1.7h-1zM651.5 536.9h1v1.7h-1zM652.5 533.5h1v1.7h-1zM652.5 536.9h1v1.7h-1zM688.5 576h1v1.7h-1zM633.5 586.2h1v1.7h-1zM658.5 565.8h1v1.7h-1zM647.5 572.6h1v1.7h-1zM651.5 567.5h1v1.7h-1zM641.5 574.3h1v1.7h-1zM671.5 591.3h1v1.7h-1zM662.5 591.3h1v1.7h-1zM662.5 579.4h1v1.7h-1zM644.5 564.1h1v1.7h-1zM678.5 574.3h1v1.7h-1zM661.5 565.8h1v1.7h-1z"/>
<path fill="#0000ff" d="M679.5 521.6h1v1.7h-1zM664.5 535.2h1v1.7h-1zM686.5 538.6h1v1.7h-1zM662.5 535.2h1v1.7h-1zM684.5 535.2h1v1.7h-1zM670.5 531.8h1v1.7h-1zM680.5 514.8h1v1.7h-1zM685.5 531.8h1v1.7h-1zM670.5 535.2h1v1.7h-1zM668.5 531.8h1v1.7h-1zM679.5 525h1v1.7h-1zM667.5 511.4h1v1.7h-1zM677.5 521.6h1v1.7h-1zM671.5 523.3h1v1.7h-1zM671.5 528.4h1v1.7h-1zM663.5 514.8h1v1.7h-1zM675.5 530.1h1v1.7h-1zM677.5 528.4h1v1.7h-1zM677.5 523.3h1v1.7h-1zM650.5 533.5h1v1.7h-1zM681.5 540.3h1v1.7h-1zM675.5 525h1v1.7h-1zM646.5 530.1h1v1.7h-1zM686.5 518.2h1v1.7h-1zM638.5 521.6h1v1.7h-1zM683.5 521.6h1v1.7h-1zM676.5 540.3h1v1.7h-1zM649.5 533.5h1v1.7h-1zM648.5 519.9h1v1.7h-1zM671.5 535.2h1v1.7h-1zM646.5 525h1v1.7h-1zM682.5 530.1h1v1.7h-1zM639.5 530.1h1v1.7h-1zM671.5 519.9h1v1.7h-1zM641.5 528.4h1v1.7h-1zM650.5 536.9h1v1.7h-1zM652.5 530.1h1v1.7h-1zM681.5 535.2h1v1.7h-1zM676.5 531.8h1v1.7h-1zM678.5 519.9h1v1.7h-1zM670.5 523.3h1v1.7h-1zM677.5 538.6h1v1.7h-1zM648.5 533.5h1v1.7h-1zM666.5 528.4h1v1.7h-1zM668.5 530.1h1v1.7h-1zM664.5 525h1v1.7h-1zM659.5 545.4h1v1.7h-1zM638.5 523.3h1v1.7h-1zM653.5 540.3h1v1.7h-1zM677.5 525h1v1.7h-1zM682.5 523.3h1v1.7h-1zM619.5 535.2h1v1.7h-1zM653.5 538.6h1v1.7h-1zM625.5 533.5h1v1.7h-1zM625.5 531.8h1v1.7h-1zM639.5 521.6h1v1.7h-1zM625.5 536.9h1v1.7h-1zM631.5 531.8h1v1.7h-1zM634.5 540.3h1v1.7h-1zM652.5 542h1v1.7h-1zM626.5 535.2h1v1.7h-1zM626.5 536.9h1v1.7h-1zM627.5 533.5h1v1.7h-1zM628.5 533.5h1v1.7h-1zM628.5 538.6h1v1.7h-1zM631.5 540.3h1v1.7h-1zM633.5 531.8h1v1.7h-1zM635.5 540.3h1v1.7h-1zM637.5 540.3h1v1.7h-1zM638.5 540.3h1v1.7h-1zM646.5 531.8h1v1.7h-1zM647.5 531.8h1v1.7h-1zM647.5 538.6h1v1.7h-1zM649.5 536.9h1v1.7h-1zM651.5 535.2h1v1.7h-1zM639.5 589.6h1v1.7h-1zM664.5 579.4h1v1.7h-1zM634.5 586.2h1v1.7h-1zM687.5 574.3h1v1.7h-1zM649.5 581.1h1v1.7h-1zM627.5 565.8h1v1.7h-1zM675.5 576h1v1.7h-1zM676.5 591.3h1v1.7h-1zM648.5 577.7h1v1.7h-1zM682.5 591.3h1v1.7h-1zM670.5 570.9h1v1.7h-1zM668.5 567.5h1v1.7h-1zM668.5 589.6h1v1.7h-1zM673.5 576h1v1.7h-1zM685.5 584.5h1v1.7h-1zM635.5 569.2h1v1.7h-1zM684.5 579.4h1v1.7h-1zM688.5 569.2h1v1.7h-1zM667.5 589.6h1v1.7h-1zM688.5 584.5h1v1.7h-1zM669.5 589.6h1v1.7h-1zM670.5 589.6h1v1.7h-1zM680.5 586.2h1v1.7h-1z"/>
<path fill="#007fff" d="M650.5 535.2h1v1.7h-1zM640.5 540.3h1v1.7h-1zM645.5 531.8h1v1.7h-1zM647.5 533.5h1v1.7h-1zM641.5 540.3h1v1.7h-1zM632.5 531.8h1v1.7h-1zM627.5 535.2h1v1.7h-1zM629.5 538.6h1v1.7h-1zM636.5 540.3h1v1.7h-1zM643.5 531.8h1v1.7h-1zM643.5 540.3h1v1.7h-1z"/>
<path fill="#00ffff" d="M649.5 535.2h1v1.7h-1zM630.5 538.6h1v1.7h-1zM646.5 538.6h1v1.7h-1zM628.5 536.9h1v1.7h-1zM629.5 533.5h1v1.7h-1zM631.5 538.6h1v1.7h-1zM633.5 540.3h1v1.7h-1zM635.5 531.8h1v1.7h-1zM639.5 540.3h1v1.7h-1zM641.5 531.8h1v1.7h-1zM644.5 531.8h1v1.7h-1z"/>
<path fill="#00ff00" d="M642.5 531.8h1v1.7h-1zM648.5 538.6h1v1.7h-1zM628.5 535.2h1v1.7h-1zM648.5 536.9h1v1.7h-1zM648.5 535.2h1v1.7h-1zM634.5 531.8h1v1.7h-1zM627.5 536.9h1v1.7h-1zM638.5 531.8h1v1.7h-1zM645.5 538.6h1v1.7h-1z"/>
<path fill="#007f3f" d="M633.5 538.6h1v1.7h-1zM630.5 533.5h1v1.7h-1zM632.5 538.6h1v1.7h-1zM636.5 531.8h1v1.7h-1zM637.5 531.8h1v1.7h-1zM640.5 531.8h1v1.7h-1zM644.5 538.6h1v1.7h-1zM646.5 533.5h1v1.7h-1zM647.5 536.9h1v1.7h-1z"/>
<path fill="#3f7f7f" d="M630.5 536.9h1v1.7h-1zM636.5 538.6h1v1.7h-1zM647.5 535.2h1v1.7h-1zM629.5 535.2h1v1.7h-1zM629.5 536.9h1v1.7h-1zM631.5 533.5h1v1.7h-1zM639.5 531.8h1v1.7h-1zM643.5 538.6h1v1.7h-1zM645.5 533.5h1v1.7h-1z"/>
<path fill="#ffff00" d="M646.5 535.2h1v1.7h-1zM633.5 533.5h1v1.7h-1zM630.5 535.2h1v1.7h-1zM637.5 538.6h1v1.7h-1zM641.5 538.6h1v1.7h-1zM642.5 533.5h1v1.7h-1zM646.5 536.9h1v1.7h-1z"/>
<path fill="#ffbf7f" d="M642.5 538.6h1v1.7h-1zM632.5 533.5h1v1.7h-1zM634.5 538.6h1v1.7h-1zM635.5 533.5h1v1.7h-1zM636.5 533.5h1v1.7h-1zM643.5 533.5h1v1.7h-1zM644.5 533.5h1v1.7h-1zM645.5 536.9h1v1.7h-1z"/>
<path fill="#ff7f00" d="M644.5 536.9h1v1.7h-1zM635.5 538.6h1v1.7h-1zM631.5 536.9h1v1.7h-1zM644.5 535.2h1v1.7h-1zM638.5 533.5h1v1.7h-1zM638.5 538.6h1v1.7h-1zM640.5 538.6h1v1.7h-1zM641.5 533.5h1v1.7h-1zM645.5 535.2h1v1.7h-1z"/>
<path fill="#ff007f" d="M631.5 535.2h1v1.7h-1zM632.5 535.2h1v1.7h-1zM632.5 536.9h1v1.7h-1zM634.5 533.5h1v1.7h-1zM639.5 538.6h1v1.7h-1z"/>
<path fill="#ff0000" d="M633.5 535.2h1v1.7h-1zM633.5 536.9h1v1.7h-1zM640.5 533.5h1v1.7h-1zM642.5 536.9h1v1.7h-1zM643.5 535.2h1v1.7h-1z"/>
<path fill="#bf0000" d="M639.5 533.5h1v1.7h-1zM634.5 536.9h1v1.7h-1zM637.5 533.5h1v1.7h-1z"/>
<path fill="#7f0000" d="M642.5 535.2h1v1.7h-1zM643.5 536.9h1v1.7h-1z"/>
<path fill="#000000" d="M641.5 535.2h1v1.7h-1zM634.5 535.2h1v1.7h-1zM635.5 535.2h1v1.7h-1zM635.5 536.9h1v1.7h-1z"/>
<path fill="#7f7f7f" d="M637.5 536.9h1v1.7h-1zM640.5 536.9h1v1.7h-1zM636.5 535.2h1v1.7h-1zM636.5 536.9h1v1.7h-1z"/>
<path fill="#bfbfbf" d="M641.5 536.9h1v1.7h-1zM638.5 535.2h1v1.7h-1zM639.5 535.2h1v1.7h-1zM639.5 536.9h1v1.7h-1zM640.5 535.2h1v1.7h-1z"/>
<path fill="#ffffff" d="M637.5 535.2h1v1.7h-1zM638.5 536.9h1v1.7h-1z"/></g>
<rect x="595.5" y="273.5" width="93" height="436" fill="none" stroke="#000" stroke-width="1"/>
<text x="589.00" y="712.80" font-size="10.9" text-anchor="end" >−400</text>
<line x1="595.50" y1="654.50" x2="601.00" y2="654.50" stroke="#000" stroke-width="1" />
<text x="589.00" y="657.80" font-size="10.9" text-anchor="end" >−300</text>
<line x1="595.50" y1="600.50" x2="601.00" y2="600.50" stroke="#000" stroke-width="1" />
<text x="589.00" y="603.80" font-size="10.9" text-anchor="end" >−200</text>
<line x1="595.50" y1="545.50" x2="601.00" y2="545.50" stroke="#000" stroke-width="1" />
<text x="589.00" y="548.80" font-size="10.9" text-anchor="end" >−100</text>
<line x1="595.50" y1="491.50" x2="601.00" y2="491.50" stroke="#000" stroke-width="1" />
<text x="589.00" y="494.80" font-size="10.9" text-anchor="end" >0</text>
<line x1="595.50" y1="436.50" x2="601.00" y2="436.50" stroke="#000" stroke-width="1" />
<text x="589.00" y="439.80" font-size="10.9" text-anchor="end" >100</text>
<line x1="595.50" y1="382.50" x2="601.00" y2="382.50" stroke="#000" stroke-width="1" />
<text x="589.00" y="385.80" font-size="10.9" text-anchor="end" >200</text>
<line x1="595.50" y1="327.50" x2="601.00" y2="327.50" stroke="#000" stroke-width="1" />
<text x="589.00" y="330.80" font-size="10.9" text-anchor="end" >300</text>
<text x="589.00" y="276.80" font-size="10.9" text-anchor="end" >400</text>
<line x1="641.50" y1="709.50" x2="641.50" y2="704.00" stroke="#000" stroke-width="1" />
<text x="595.50" y="721.50" font-size="10.9" text-anchor="middle" >0</text>
<text x="641.50" y="721.50" font-size="10.9" text-anchor="middle" >10</text>
<text x="688.50" y="721.50" font-size="10.9" text-anchor="middle" >20</text>
<text x="640.80" y="740.60" font-size="11.0" text-anchor="middle" >Altitude, km</text>
<text x="0.00" y="0.00" font-size="11.0" text-anchor="middle" transform="translate(699.6,492.3) rotate(-90)">North-South, km</text>
<g shape-rendering="crispEdges">
<rect x="68.5" y="763.5" width="22.5" height="25.0" fill="#ff44ff"/>
<rect x="91" y="763.5" width="47" height="25.0" fill="#7f00ff"/>
<rect x="138" y="763.5" width="47" height="25.0" fill="#0000ff"/>
<rect x="185" y="763.5" width="24" height="25.0" fill="#007fff"/>
<rect x="209" y="763.5" width="23" height="25.0" fill="#00ffff"/>
<rect x="232" y="763.5" width="24" height="25.0" fill="#00ff00"/>
<rect x="256" y="763.5" width="24" height="25.0" fill="#007f3f"/>
<rect x="280" y="763.5" width="23" height="25.0" fill="#3f7f7f"/>
<rect x="303" y="763.5" width="24" height="25.0" fill="#ffff00"/>
<rect x="327" y="763.5" width="23" height="25.0" fill="#ffbf7f"/>
<rect x="350" y="763.5" width="24" height="25.0" fill="#ff7f00"/>
<rect x="374" y="763.5" width="24" height="25.0" fill="#ff007f"/>
<rect x="398" y="763.5" width="23" height="25.0" fill="#ff0000"/>
<rect x="421" y="763.5" width="24" height="25.0" fill="#bf0000"/>
<rect x="445" y="763.5" width="24" height="25.0" fill="#7f0000"/>
<rect x="469" y="763.5" width="23" height="25.0" fill="#000000"/>
<rect x="492" y="763.5" width="24" height="25.0" fill="#7f7f7f"/>
<rect x="516" y="763.5" width="23" height="25.0" fill="#bfbfbf"/>
<rect x="539" y="763.5" width="25.5" height="25.0" fill="#ffffff"/>
</g>
<rect x="68.5" y="763.5" width="496" height="25" fill="none" stroke="#000" stroke-width="1"/>
<line x1="123.50" y1="788.50" x2="123.50" y2="785.00" stroke="#000" stroke-width="1" />
<line x1="155.50" y1="788.50" x2="155.50" y2="785.00" stroke="#000" stroke-width="1" />
<line x1="178.50" y1="788.50" x2="178.50" y2="785.00" stroke="#000" stroke-width="1" />
<line x1="195.50" y1="788.50" x2="195.50" y2="785.00" stroke="#000" stroke-width="1" />
<line x1="210.50" y1="788.50" x2="210.50" y2="785.00" stroke="#000" stroke-width="1" />
<line x1="222.50" y1="788.50" x2="222.50" y2="785.00" stroke="#000" stroke-width="1" />
<line x1="232.50" y1="788.50" x2="232.50" y2="785.00" stroke="#000" stroke-width="1" />
<line x1="242.50" y1="788.50" x2="242.50" y2="785.00" stroke="#000" stroke-width="1" />
<line x1="250.50" y1="788.50" x2="250.50" y2="783.00" stroke="#000" stroke-width="1" />
<line x1="305.50" y1="788.50" x2="305.50" y2="785.00" stroke="#000" stroke-width="1" />
<line x1="337.50" y1="788.50" x2="337.50" y2="785.00" stroke="#000" stroke-width="1" />
<line x1="360.50" y1="788.50" x2="360.50" y2="785.00" stroke="#000" stroke-width="1" />
<line x1="377.50" y1="788.50" x2="377.50" y2="785.00" stroke="#000" stroke-width="1" />
<line x1="392.50" y1="788.50" x2="392.50" y2="785.00" stroke="#000" stroke-width="1" />
<line x1="404.50" y1="788.50" x2="404.50" y2="785.00" stroke="#000" stroke-width="1" />
<line x1="415.50" y1="788.50" x2="415.50" y2="785.00" stroke="#000" stroke-width="1" />
<line x1="424.50" y1="788.50" x2="424.50" y2="785.00" stroke="#000" stroke-width="1" />
<line x1="432.50" y1="788.50" x2="432.50" y2="783.00" stroke="#000" stroke-width="1" />
<line x1="487.50" y1="788.50" x2="487.50" y2="785.00" stroke="#000" stroke-width="1" />
<line x1="519.50" y1="788.50" x2="519.50" y2="785.00" stroke="#000" stroke-width="1" />
<line x1="542.50" y1="788.50" x2="542.50" y2="785.00" stroke="#000" stroke-width="1" />
<line x1="560.50" y1="788.50" x2="560.50" y2="785.00" stroke="#000" stroke-width="1" />
<text x="67.40" y="802.30" font-size="10.9" text-anchor="middle" >1</text>
<text x="249.50" y="802.30" font-size="10.9" text-anchor="middle" >10</text>
<text x="431.50" y="802.30" font-size="10.9" text-anchor="middle" >100</text>
<text x="584.00" y="783.80" font-size="16.0" text-anchor="start" >Sources/7 km²</text>
</svg>
</body></html>
